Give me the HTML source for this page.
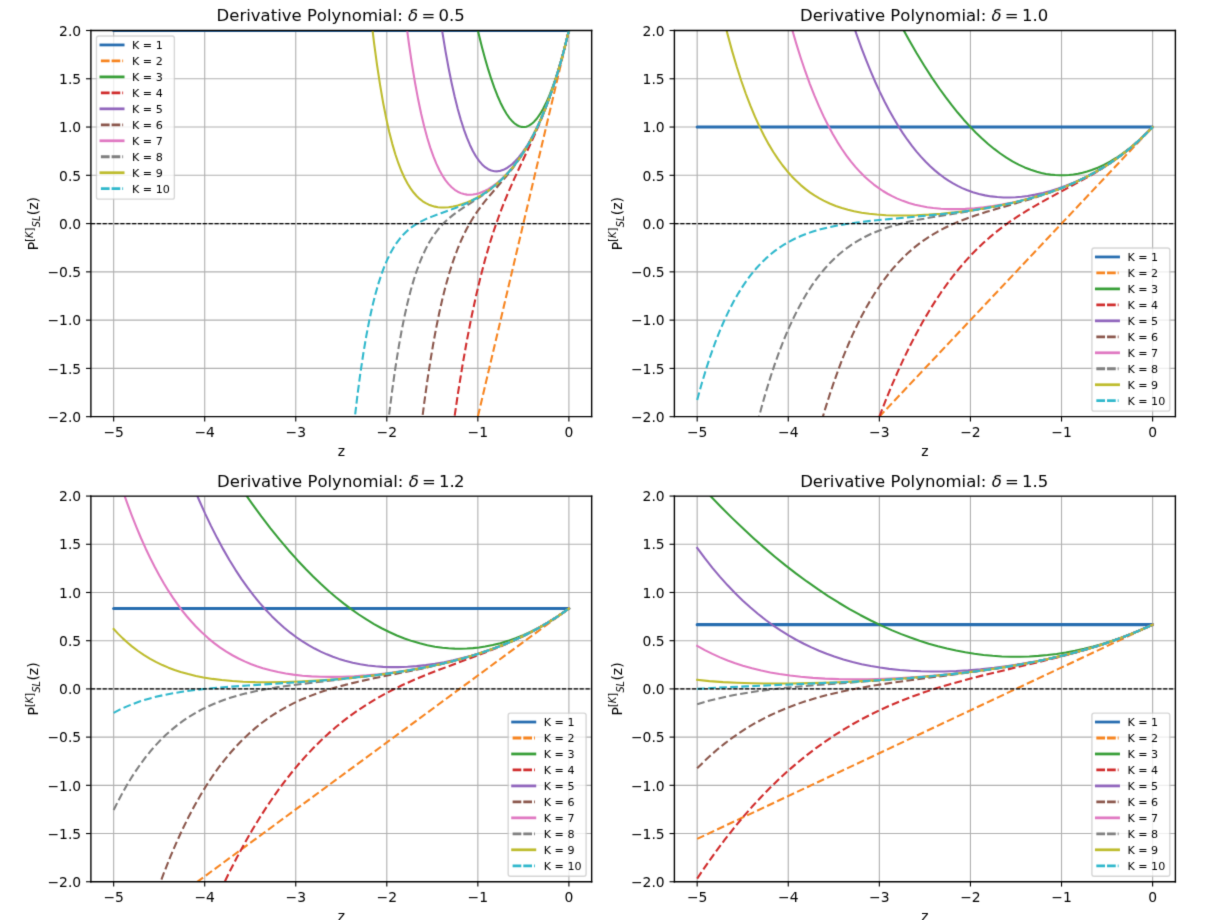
<!DOCTYPE html>
<html><head><meta charset="utf-8"><title>Derivative Polynomial</title>
<style>html,body{margin:0;padding:0;background:#fff;overflow:hidden}svg{display:block}#f{width:1226px;height:920px;filter:url(#soft)}</style>
</head><body><svg width="0" height="0" style="position:absolute"><defs><filter id="soft" x="0" y="0" width="100%" height="100%" color-interpolation-filters="sRGB"><feConvolveMatrix order="3" kernelMatrix="0.0144 0.0912 0.0144 0.0912 0.5776 0.0912 0.0144 0.0912 0.0144" divisor="1" edgeMode="duplicate" preserveAlpha="true"/></filter></defs></svg><div id="f">
<svg width="1226" height="920" viewBox="0 0 882.72 662.4">
 <defs>
  <style type="text/css">*{stroke-linejoin: round; stroke-linecap: butt}</style>
 </defs>
 <g id="figure_1">
  <g id="patch_1">
   <path d="M 0 662.4
L 882.72 662.4
L 882.72 0
L 0 0
z
" style="fill: #ffffff"/>
  </g>
  <g id="axes_1">
   <g id="patch_2">
    <path d="M 65.448 300.0024
L 425.9952 300.0024
L 425.9952 21.96
L 65.448 21.96
z
" style="fill: #ffffff"/>
   </g>
   <g id="matplotlib.axis_1">
    <g id="xtick_1">
     <g id="line2d_1">
      <path d="M 81.836509 300.0024
L 81.836509 21.96
" clip-path="url(#p44d1da7086)" style="fill: none; stroke: #b0b0b0; stroke-width: 0.8; stroke-linecap: square"/>
     </g>
     <g id="line2d_2">
      <defs>
       <path id="m1228cf1c92" d="M 0 0
L 0 3.5
" style="stroke: #000000; stroke-width: 0.8"/>
      </defs>
      <g>
       <use href="#m1228cf1c92" x="81.836509" y="300.0024" style="stroke: #000000; stroke-width: 0.8"/>
      </g>
     </g>
     <g id="text_1">
      <text style="font-size: 10px; font-family: 'DejaVu Sans', 'Bitstream Vera Sans', 'Computer Modern Sans Serif', 'Lucida Grande', 'Verdana', 'Geneva', 'Lucid', 'Arial', 'Helvetica', 'Avant Garde', sans-serif; text-anchor: middle" x="81.836509" y="314.5024" transform="rotate(-0 81.836509 314.5024)">−5</text>
     </g>
    </g>
    <g id="xtick_2">
     <g id="line2d_3">
      <path d="M 147.390545 300.0024
L 147.390545 21.96
" clip-path="url(#p44d1da7086)" style="fill: none; stroke: #b0b0b0; stroke-width: 0.8; stroke-linecap: square"/>
     </g>
     <g id="line2d_4">
      <g>
       <use href="#m1228cf1c92" x="147.390545" y="300.0024" style="stroke: #000000; stroke-width: 0.8"/>
      </g>
     </g>
     <g id="text_2">
      <text style="font-size: 10px; font-family: 'DejaVu Sans', 'Bitstream Vera Sans', 'Computer Modern Sans Serif', 'Lucida Grande', 'Verdana', 'Geneva', 'Lucid', 'Arial', 'Helvetica', 'Avant Garde', sans-serif; text-anchor: middle" x="147.390545" y="314.5024" transform="rotate(-0 147.390545 314.5024)">−4</text>
     </g>
    </g>
    <g id="xtick_3">
     <g id="line2d_5">
      <path d="M 212.944582 300.0024
L 212.944582 21.96
" clip-path="url(#p44d1da7086)" style="fill: none; stroke: #b0b0b0; stroke-width: 0.8; stroke-linecap: square"/>
     </g>
     <g id="line2d_6">
      <g>
       <use href="#m1228cf1c92" x="212.944582" y="300.0024" style="stroke: #000000; stroke-width: 0.8"/>
      </g>
     </g>
     <g id="text_3">
      <text style="font-size: 10px; font-family: 'DejaVu Sans', 'Bitstream Vera Sans', 'Computer Modern Sans Serif', 'Lucida Grande', 'Verdana', 'Geneva', 'Lucid', 'Arial', 'Helvetica', 'Avant Garde', sans-serif; text-anchor: middle" x="212.944582" y="314.5024" transform="rotate(-0 212.944582 314.5024)">−3</text>
     </g>
    </g>
    <g id="xtick_4">
     <g id="line2d_7">
      <path d="M 278.498618 300.0024
L 278.498618 21.96
" clip-path="url(#p44d1da7086)" style="fill: none; stroke: #b0b0b0; stroke-width: 0.8; stroke-linecap: square"/>
     </g>
     <g id="line2d_8">
      <g>
       <use href="#m1228cf1c92" x="278.498618" y="300.0024" style="stroke: #000000; stroke-width: 0.8"/>
      </g>
     </g>
     <g id="text_4">
      <text style="font-size: 10px; font-family: 'DejaVu Sans', 'Bitstream Vera Sans', 'Computer Modern Sans Serif', 'Lucida Grande', 'Verdana', 'Geneva', 'Lucid', 'Arial', 'Helvetica', 'Avant Garde', sans-serif; text-anchor: middle" x="278.498618" y="314.5024" transform="rotate(-0 278.498618 314.5024)">−2</text>
     </g>
    </g>
    <g id="xtick_5">
     <g id="line2d_9">
      <path d="M 344.052655 300.0024
L 344.052655 21.96
" clip-path="url(#p44d1da7086)" style="fill: none; stroke: #b0b0b0; stroke-width: 0.8; stroke-linecap: square"/>
     </g>
     <g id="line2d_10">
      <g>
       <use href="#m1228cf1c92" x="344.052655" y="300.0024" style="stroke: #000000; stroke-width: 0.8"/>
      </g>
     </g>
     <g id="text_5">
      <text style="font-size: 10px; font-family: 'DejaVu Sans', 'Bitstream Vera Sans', 'Computer Modern Sans Serif', 'Lucida Grande', 'Verdana', 'Geneva', 'Lucid', 'Arial', 'Helvetica', 'Avant Garde', sans-serif; text-anchor: middle" x="344.052655" y="314.5024" transform="rotate(-0 344.052655 314.5024)">−1</text>
     </g>
    </g>
    <g id="xtick_6">
     <g id="line2d_11">
      <path d="M 409.606691 300.0024
L 409.606691 21.96
" clip-path="url(#p44d1da7086)" style="fill: none; stroke: #b0b0b0; stroke-width: 0.8; stroke-linecap: square"/>
     </g>
     <g id="line2d_12">
      <g>
       <use href="#m1228cf1c92" x="409.606691" y="300.0024" style="stroke: #000000; stroke-width: 0.8"/>
      </g>
     </g>
     <g id="text_6">
      <text style="font-size: 10px; font-family: 'DejaVu Sans', 'Bitstream Vera Sans', 'Computer Modern Sans Serif', 'Lucida Grande', 'Verdana', 'Geneva', 'Lucid', 'Arial', 'Helvetica', 'Avant Garde', sans-serif; text-anchor: middle" x="409.606691" y="314.5024" transform="rotate(-0 409.606691 314.5024)">0</text>
     </g>
    </g>
    <g id="text_7">
     <text style="font-size: 10px; font-family: 'DejaVu Sans', 'Bitstream Vera Sans', 'Computer Modern Sans Serif', 'Lucida Grande', 'Verdana', 'Geneva', 'Lucid', 'Arial', 'Helvetica', 'Avant Garde', sans-serif; text-anchor: middle" x="245.7216" y="328.0024" transform="rotate(-0 245.7216 328.0024)">z</text>
    </g>
   </g>
   <g id="matplotlib.axis_2">
    <g id="ytick_1">
     <g id="line2d_13">
      <path d="M 65.448 300.0024
L 425.9952 300.0024
" clip-path="url(#p44d1da7086)" style="fill: none; stroke: #b0b0b0; stroke-width: 0.8; stroke-linecap: square"/>
     </g>
     <g id="line2d_14">
      <defs>
       <path id="m6d36496dd9" d="M 0 0
L -3.5 0
" style="stroke: #000000; stroke-width: 0.8"/>
      </defs>
      <g>
       <use href="#m6d36496dd9" x="65.448" y="300.0024" style="stroke: #000000; stroke-width: 0.8"/>
      </g>
     </g>
     <g id="text_8">
      <text style="font-size: 10px; font-family: 'DejaVu Sans', 'Bitstream Vera Sans', 'Computer Modern Sans Serif', 'Lucida Grande', 'Verdana', 'Geneva', 'Lucid', 'Arial', 'Helvetica', 'Avant Garde', sans-serif; text-anchor: end" x="58.448" y="303.7524" transform="rotate(-0 58.448 303.7524)">−2.0</text>
     </g>
    </g>
    <g id="ytick_2">
     <g id="line2d_15">
      <path d="M 65.448 265.2471
L 425.9952 265.2471
" clip-path="url(#p44d1da7086)" style="fill: none; stroke: #b0b0b0; stroke-width: 0.8; stroke-linecap: square"/>
     </g>
     <g id="line2d_16">
      <g>
       <use href="#m6d36496dd9" x="65.448" y="265.2471" style="stroke: #000000; stroke-width: 0.8"/>
      </g>
     </g>
     <g id="text_9">
      <text style="font-size: 10px; font-family: 'DejaVu Sans', 'Bitstream Vera Sans', 'Computer Modern Sans Serif', 'Lucida Grande', 'Verdana', 'Geneva', 'Lucid', 'Arial', 'Helvetica', 'Avant Garde', sans-serif; text-anchor: end" x="58.448" y="268.9971" transform="rotate(-0 58.448 268.9971)">−1.5</text>
     </g>
    </g>
    <g id="ytick_3">
     <g id="line2d_17">
      <path d="M 65.448 230.4918
L 425.9952 230.4918
" clip-path="url(#p44d1da7086)" style="fill: none; stroke: #b0b0b0; stroke-width: 0.8; stroke-linecap: square"/>
     </g>
     <g id="line2d_18">
      <g>
       <use href="#m6d36496dd9" x="65.448" y="230.4918" style="stroke: #000000; stroke-width: 0.8"/>
      </g>
     </g>
     <g id="text_10">
      <text style="font-size: 10px; font-family: 'DejaVu Sans', 'Bitstream Vera Sans', 'Computer Modern Sans Serif', 'Lucida Grande', 'Verdana', 'Geneva', 'Lucid', 'Arial', 'Helvetica', 'Avant Garde', sans-serif; text-anchor: end" x="58.448" y="234.2418" transform="rotate(-0 58.448 234.2418)">−1.0</text>
     </g>
    </g>
    <g id="ytick_4">
     <g id="line2d_19">
      <path d="M 65.448 195.7365
L 425.9952 195.7365
" clip-path="url(#p44d1da7086)" style="fill: none; stroke: #b0b0b0; stroke-width: 0.8; stroke-linecap: square"/>
     </g>
     <g id="line2d_20">
      <g>
       <use href="#m6d36496dd9" x="65.448" y="195.7365" style="stroke: #000000; stroke-width: 0.8"/>
      </g>
     </g>
     <g id="text_11">
      <text style="font-size: 10px; font-family: 'DejaVu Sans', 'Bitstream Vera Sans', 'Computer Modern Sans Serif', 'Lucida Grande', 'Verdana', 'Geneva', 'Lucid', 'Arial', 'Helvetica', 'Avant Garde', sans-serif; text-anchor: end" x="58.448" y="199.4865" transform="rotate(-0 58.448 199.4865)">−0.5</text>
     </g>
    </g>
    <g id="ytick_5">
     <g id="line2d_21">
      <path d="M 65.448 160.9812
L 425.9952 160.9812
" clip-path="url(#p44d1da7086)" style="fill: none; stroke: #b0b0b0; stroke-width: 0.8; stroke-linecap: square"/>
     </g>
     <g id="line2d_22">
      <g>
       <use href="#m6d36496dd9" x="65.448" y="160.9812" style="stroke: #000000; stroke-width: 0.8"/>
      </g>
     </g>
     <g id="text_12">
      <text style="font-size: 10px; font-family: 'DejaVu Sans', 'Bitstream Vera Sans', 'Computer Modern Sans Serif', 'Lucida Grande', 'Verdana', 'Geneva', 'Lucid', 'Arial', 'Helvetica', 'Avant Garde', sans-serif; text-anchor: end" x="58.448" y="164.7312" transform="rotate(-0 58.448 164.7312)">0.0</text>
     </g>
    </g>
    <g id="ytick_6">
     <g id="line2d_23">
      <path d="M 65.448 126.2259
L 425.9952 126.2259
" clip-path="url(#p44d1da7086)" style="fill: none; stroke: #b0b0b0; stroke-width: 0.8; stroke-linecap: square"/>
     </g>
     <g id="line2d_24">
      <g>
       <use href="#m6d36496dd9" x="65.448" y="126.2259" style="stroke: #000000; stroke-width: 0.8"/>
      </g>
     </g>
     <g id="text_13">
      <text style="font-size: 10px; font-family: 'DejaVu Sans', 'Bitstream Vera Sans', 'Computer Modern Sans Serif', 'Lucida Grande', 'Verdana', 'Geneva', 'Lucid', 'Arial', 'Helvetica', 'Avant Garde', sans-serif; text-anchor: end" x="58.448" y="129.9759" transform="rotate(-0 58.448 129.9759)">0.5</text>
     </g>
    </g>
    <g id="ytick_7">
     <g id="line2d_25">
      <path d="M 65.448 91.4706
L 425.9952 91.4706
" clip-path="url(#p44d1da7086)" style="fill: none; stroke: #b0b0b0; stroke-width: 0.8; stroke-linecap: square"/>
     </g>
     <g id="line2d_26">
      <g>
       <use href="#m6d36496dd9" x="65.448" y="91.4706" style="stroke: #000000; stroke-width: 0.8"/>
      </g>
     </g>
     <g id="text_14">
      <text style="font-size: 10px; font-family: 'DejaVu Sans', 'Bitstream Vera Sans', 'Computer Modern Sans Serif', 'Lucida Grande', 'Verdana', 'Geneva', 'Lucid', 'Arial', 'Helvetica', 'Avant Garde', sans-serif; text-anchor: end" x="58.448" y="95.2206" transform="rotate(-0 58.448 95.2206)">1.0</text>
     </g>
    </g>
    <g id="ytick_8">
     <g id="line2d_27">
      <path d="M 65.448 56.7153
L 425.9952 56.7153
" clip-path="url(#p44d1da7086)" style="fill: none; stroke: #b0b0b0; stroke-width: 0.8; stroke-linecap: square"/>
     </g>
     <g id="line2d_28">
      <g>
       <use href="#m6d36496dd9" x="65.448" y="56.7153" style="stroke: #000000; stroke-width: 0.8"/>
      </g>
     </g>
     <g id="text_15">
      <text style="font-size: 10px; font-family: 'DejaVu Sans', 'Bitstream Vera Sans', 'Computer Modern Sans Serif', 'Lucida Grande', 'Verdana', 'Geneva', 'Lucid', 'Arial', 'Helvetica', 'Avant Garde', sans-serif; text-anchor: end" x="58.448" y="60.4653" transform="rotate(-0 58.448 60.4653)">1.5</text>
     </g>
    </g>
    <g id="ytick_9">
     <g id="line2d_29">
      <path d="M 65.448 21.96
L 425.9952 21.96
" clip-path="url(#p44d1da7086)" style="fill: none; stroke: #b0b0b0; stroke-width: 0.8; stroke-linecap: square"/>
     </g>
     <g id="line2d_30">
      <g>
       <use href="#m6d36496dd9" x="65.448" y="21.96" style="stroke: #000000; stroke-width: 0.8"/>
      </g>
     </g>
     <g id="text_16">
      <text style="font-size: 10px; font-family: 'DejaVu Sans', 'Bitstream Vera Sans', 'Computer Modern Sans Serif', 'Lucida Grande', 'Verdana', 'Geneva', 'Lucid', 'Arial', 'Helvetica', 'Avant Garde', sans-serif; text-anchor: end" x="58.448" y="25.71" transform="rotate(-0 58.448 25.71)">2.0</text>
     </g>
    </g>
    <g id="text_17">
     <!-- P$^{[K]}$$_{SL}$(z) -->
     <g transform="translate(28.3355 180.144442) rotate(-90)">
      <text>
       <tspan x="0" y="-0.85625" style="font-size: 10px; font-family: 'DejaVu Sans'">P</tspan>
       <tspan x="25.164062" y="-0.85625" style="font-size: 10px; font-family: 'DejaVu Sans'">(</tspan>
       <tspan x="29.06543" y="-0.85625" style="font-size: 10px; font-family: 'DejaVu Sans'">z</tspan>
       <tspan x="34.314453" y="-0.85625" style="font-size: 10px; font-family: 'DejaVu Sans'">)</tspan>
       <tspan x="6.125977" y="-4.684375" style="font-size: 7px; font-family: 'DejaVu Sans'">[</tspan>
       <tspan x="13.447266" y="-4.684375" style="font-size: 7px; font-family: 'DejaVu Sans'">]</tspan>
       <tspan x="8.856934" y="-4.684375" style="font-style: oblique; font-size: 7px; font-family: 'DejaVu Sans'">K</tspan>
       <tspan x="16.547363" y="0.784375" style="font-style: oblique; font-size: 7px; font-family: 'DejaVu Sans'">S</tspan>
       <tspan x="20.990723" y="0.784375" style="font-style: oblique; font-size: 7px; font-family: 'DejaVu Sans'">L</tspan>
      </text>
     </g>
    </g>
   </g>
   <g id="line2d_31">
    <path d="M 81.836509 21.96
L 409.606691 21.96
L 409.606691 21.96
" clip-path="url(#p44d1da7086)" style="fill: none; stroke: #276db0; stroke-width: 2.2; stroke-linecap: round"/>
   </g>
   <g id="line2d_32">
    <path d="M 258.374429 663.4
L 409.606691 21.96
L 409.606691 21.96
" clip-path="url(#p44d1da7086)" style="fill: none; stroke-dasharray: 5.55,2.4; stroke-dashoffset: 0; stroke: #f7841f; stroke-width: 1.5"/>
   </g>
   <g id="line2d_33">
    <path d="M 339.028732 -1
L 341.640968 11.354698
L 344.929632 25.62987
L 347.122074 34.369136
L 349.314517 42.486391
L 351.50696 49.981633
L 353.699402 56.854864
L 355.891845 63.106083
L 358.084288 68.73529
L 360.27673 73.742485
L 362.469173 78.127669
L 364.661616 81.89084
L 366.854058 85.032
L 369.046501 87.551148
L 370.142723 88.577467
L 371.238944 89.448284
L 372.335165 90.163598
L 373.431387 90.723408
L 374.527608 91.127716
L 375.623829 91.376521
L 376.720051 91.469822
L 377.816272 91.407621
L 378.912493 91.189917
L 380.008715 90.81671
L 381.104936 90.288
L 382.201157 89.603787
L 383.297379 88.764071
L 384.3936 87.768852
L 386.586043 85.311905
L 388.778485 82.232947
L 390.970928 78.531976
L 393.163371 74.208994
L 395.355813 69.264
L 397.548256 63.696994
L 399.740699 57.507976
L 401.933142 50.696947
L 404.125584 43.263905
L 406.318027 35.208852
L 408.51047 26.531787
L 409.606691 21.96
L 409.606691 21.96
" clip-path="url(#p44d1da7086)" style="fill: none; stroke: #389f38; stroke-width: 1.5; stroke-linecap: square"/>
   </g>
   <g id="line2d_34">
    <path d="M 294.05536 663.4
L 296.695892 623.166925
L 299.984557 576.193694
L 303.273221 532.501627
L 306.561885 491.950304
L 309.850549 454.399304
L 313.139213 419.708207
L 316.427877 387.73659
L 319.716541 358.344035
L 323.005205 331.390119
L 326.293869 306.734423
L 329.582533 284.236525
L 332.871197 263.756006
L 336.159861 245.152443
L 339.448525 228.285417
L 342.737189 213.014506
L 346.025853 199.19929
L 349.314517 186.699349
L 352.603181 175.374261
L 355.891845 165.083606
L 359.180509 155.686962
L 362.469173 147.04391
L 365.757837 139.014029
L 370.142723 129.018638
L 375.623829 117.1992
L 383.297379 100.74664
L 387.682264 90.784535
L 390.970928 82.790538
L 394.259592 74.192733
L 397.548256 64.850698
L 400.83692 54.624012
L 404.125584 43.372255
L 407.414248 30.955005
L 409.606691 21.96
L 409.606691 21.96
" clip-path="url(#p44d1da7086)" style="fill: none; stroke-dasharray: 5.55,2.4; stroke-dashoffset: 0; stroke: #d02c2c; stroke-width: 1.5"/>
   </g>
   <g id="line2d_35">
    <path d="M 314.972136 -1
L 316.427877 9.415336
L 318.620319 23.912001
L 320.812762 37.116549
L 323.005205 49.101478
L 325.197647 59.936503
L 327.39009 69.688555
L 329.582533 78.421784
L 331.774975 86.197553
L 333.967418 93.074447
L 336.159861 99.108265
L 338.352304 104.352023
L 340.544746 108.855954
L 342.737189 112.66751
L 344.929632 115.831357
L 347.122074 118.38938
L 349.314517 120.380681
L 351.50696 121.841577
L 353.699402 122.805605
L 355.891845 123.303517
L 358.084288 123.363281
L 360.27673 123.010085
L 362.469173 122.266332
L 364.661616 121.151641
L 366.854058 119.682851
L 369.046501 117.874015
L 371.238944 115.736404
L 373.431387 113.278508
L 375.623829 110.506031
L 377.816272 107.421894
L 380.008715 104.026239
L 382.201157 100.316419
L 384.3936 96.28701
L 386.586043 91.9298
L 388.778485 87.233797
L 392.067149 79.523659
L 395.355813 70.961353
L 398.644477 61.474557
L 401.933142 50.976856
L 405.221806 39.36775
L 408.51047 26.532647
L 409.606691 21.96
L 409.606691 21.96
" clip-path="url(#p44d1da7086)" style="fill: none; stroke: #9166bd; stroke-width: 1.5; stroke-linecap: square"/>
   </g>
   <g id="line2d_36">
    <path d="M 277.976237 663.4
L 279.156351 638.398504
L 281.348794 594.648654
L 283.541236 554.16076
L 285.733679 516.741494
L 287.926122 482.205452
L 290.118564 450.37496
L 292.311007 421.079896
L 294.50345 394.1575
L 296.695892 369.452187
L 298.888335 346.815362
L 301.080778 326.105237
L 303.273221 307.186638
L 305.465663 289.930824
L 307.658106 274.215301
L 309.850549 259.923632
L 312.042991 246.945256
L 314.235434 235.175296
L 316.427877 224.514377
L 318.620319 214.86844
L 320.812762 206.148553
L 323.005205 198.270727
L 325.197647 191.155729
L 327.39009 184.728897
L 329.582533 178.919952
L 331.774975 173.662813
L 333.967418 168.895411
L 336.159861 164.559502
L 338.352304 160.600482
L 340.544746 156.967199
L 343.83341 152.024133
L 347.122074 147.558151
L 350.410738 143.434627
L 355.891845 136.997325
L 364.661616 126.768107
L 369.046501 121.235664
L 372.335165 116.749684
L 375.623829 111.893912
L 378.912493 106.597429
L 382.201157 100.789836
L 385.489821 94.399839
L 388.778485 87.353833
L 392.067149 79.574492
L 395.355813 70.979353
L 398.644477 61.479405
L 401.933142 50.977671
L 405.221806 39.367799
L 408.51047 26.532647
L 409.606691 21.96
L 409.606691 21.96
" clip-path="url(#p44d1da7086)" style="fill: none; stroke-dasharray: 5.55,2.4; stroke-dashoffset: 0; stroke: #8b574c; stroke-width: 1.5"/>
   </g>
   <g id="line2d_37">
    <path d="M 290.329638 -1
L 292.311007 15.548883
L 294.50345 32.03359
L 296.695892 46.792465
L 298.888335 59.9688
L 301.080778 71.696176
L 303.273221 82.098912
L 305.465663 91.292502
L 307.658106 99.384037
L 309.850549 106.472619
L 312.042991 112.64976
L 314.235434 117.999767
L 316.427877 122.600116
L 318.620319 126.521815
L 320.812762 129.829755
L 323.005205 132.583042
L 325.197647 134.835325
L 327.39009 136.635109
L 329.582533 138.026048
L 331.774975 139.047242
L 333.967418 139.733502
L 336.159861 140.115617
L 338.352304 140.220605
L 340.544746 140.071946
L 342.737189 139.689808
L 344.929632 139.091263
L 347.122074 138.290481
L 349.314517 137.298923
L 351.50696 136.125511
L 354.795624 134.038132
L 358.084288 131.568661
L 361.372952 128.719711
L 364.661616 125.484522
L 367.95028 121.847701
L 371.238944 117.785814
L 374.527608 113.267843
L 377.816272 108.255497
L 381.104936 102.703382
L 384.3936 96.559028
L 387.682264 89.762778
L 390.970928 82.247534
L 394.259592 73.938353
L 397.548256 64.751917
L 400.83692 54.595844
L 404.125584 43.367872
L 407.414248 30.954891
L 409.606691 21.96
L 409.606691 21.96
" clip-path="url(#p44d1da7086)" style="fill: none; stroke: #e079c2; stroke-width: 1.5; stroke-linecap: square"/>
   </g>
   <g id="line2d_38">
    <path d="M 256.669756 663.4
L 258.328145 622.912917
L 260.520588 573.889627
L 262.713031 529.395056
L 264.905474 489.069027
L 267.097916 452.574865
L 269.290359 419.598193
L 271.482802 389.845775
L 273.675244 363.044403
L 275.867687 338.93982
L 278.06013 317.295684
L 280.252572 297.892575
L 282.445015 280.527039
L 284.637458 265.010661
L 286.8299 251.169191
L 289.022343 238.841691
L 291.214786 227.879722
L 293.407228 218.146572
L 295.599671 209.516506
L 297.792114 201.874055
L 299.984557 195.113336
L 302.176999 189.137404
L 304.369442 183.857628
L 306.561885 179.193107
L 308.754327 175.070102
L 310.94677 171.421504
L 313.139213 168.186328
L 315.331655 165.309227
L 317.524098 162.74004
L 319.716541 160.433355
L 323.005205 157.376769
L 326.293869 154.697016
L 329.582533 152.289092
L 333.967418 149.347318
L 348.218296 140.047746
L 352.603181 136.800065
L 355.891845 134.132737
L 359.180509 131.223998
L 362.469173 128.035758
L 365.757837 124.529401
L 369.046501 120.664912
L 372.335165 116.400055
L 375.623829 111.689609
L 378.912493 106.484632
L 382.201157 100.731744
L 385.489821 94.372422
L 388.778485 87.342274
L 392.067149 79.570305
L 395.355813 70.97813
L 398.644477 61.479147
L 401.933142 50.97764
L 405.221806 39.367798
L 408.51047 26.532647
L 409.606691 21.96
L 409.606691 21.96
" clip-path="url(#p44d1da7086)" style="fill: none; stroke-dasharray: 5.55,2.4; stroke-dashoffset: 0; stroke: #7f7f7f; stroke-width: 1.5"/>
   </g>
   <g id="line2d_39">
    <path d="M 265.66857 -1
L 267.097916 12.28588
L 269.290359 30.668805
L 271.482802 46.955346
L 273.675244 61.351924
L 275.867687 74.047328
L 278.06013 85.213944
L 280.252572 95.00892
L 282.445015 103.575267
L 284.637458 111.042894
L 286.8299 117.529586
L 289.022343 123.141924
L 291.214786 127.976143
L 293.407228 132.118949
L 295.599671 135.648272
L 297.792114 138.63398
L 299.984557 141.138541
L 302.176999 143.217644
L 304.369442 144.920773
L 306.561885 146.291748
L 308.754327 147.369218
L 310.94677 148.187124
L 313.139213 148.775128
L 315.331655 149.159001
L 317.524098 149.36099
L 319.716541 149.400147
L 323.005205 149.188205
L 326.293869 148.689434
L 329.582533 147.93624
L 332.871197 146.951259
L 336.159861 145.748721
L 339.448525 144.335607
L 342.737189 142.712595
L 346.025853 140.874834
L 349.314517 138.812552
L 352.603181 136.511517
L 355.891845 133.953363
L 359.180509 131.115792
L 362.469173 127.972671
L 365.757837 124.494028
L 369.046501 120.645953
L 372.335165 116.390416
L 375.623829 111.685006
L 378.912493 106.482593
L 382.201157 100.730921
L 385.489821 94.372125
L 388.778485 87.342182
L 392.067149 79.570281
L 395.355813 70.978125
L 398.644477 61.479147
L 401.933142 50.97764
L 405.221806 39.367798
L 408.51047 26.532647
L 409.606691 21.96
L 409.606691 21.96
" clip-path="url(#p44d1da7086)" style="fill: none; stroke: #bebc2e; stroke-width: 1.5; stroke-linecap: square"/>
   </g>
   <g id="line2d_40">
    <path d="M 233.790762 663.4
L 235.307497 622.801515
L 237.49994 569.509726
L 239.692383 521.763161
L 241.884825 479.045723
L 244.077268 440.88329
L 246.269711 406.840803
L 248.462153 376.519506
L 250.654596 349.554363
L 252.847039 325.611611
L 255.039481 304.38647
L 257.231924 285.600982
L 259.424367 269.00199
L 261.616809 254.359233
L 263.809252 241.463571
L 266.001695 230.125317
L 268.194138 220.172675
L 270.38658 211.450287
L 272.579023 203.817876
L 274.771466 197.148972
L 276.963908 191.32974
L 279.156351 186.257876
L 281.348794 181.841593
L 283.541236 177.998671
L 285.733679 174.655584
L 287.926122 171.746687
L 290.118564 169.213465
L 292.311007 167.003844
L 294.50345 165.07155
L 296.695892 163.375526
L 299.984557 161.196064
L 303.273221 159.361692
L 306.561885 157.784605
L 310.94677 155.95782
L 317.524098 153.537282
L 328.486311 149.548627
L 333.967418 147.285183
L 338.352304 145.24531
L 342.737189 142.947151
L 347.122074 140.340362
L 350.410738 138.151204
L 353.699402 135.735207
L 356.988066 133.066894
L 360.27673 130.118612
L 363.565394 126.860153
L 366.854058 123.258362
L 370.142723 119.276753
L 373.431387 114.87509
L 376.720051 110.008956
L 380.008715 104.629287
L 383.297379 98.681863
L 386.586043 92.10675
L 389.874707 84.837698
L 393.163371 76.801466
L 396.452035 67.917087
L 399.740699 58.095044
L 403.029363 47.236377
L 406.318027 35.23168
L 409.606691 21.96
L 409.606691 21.96
" clip-path="url(#p44d1da7086)" style="fill: none; stroke-dasharray: 5.55,2.4; stroke-dashoffset: 0; stroke: #30b8cc; stroke-width: 1.5"/>
   </g>
   <g id="line2d_41">
    <path d="M 65.448 160.9812
L 425.9952 160.9812
" clip-path="url(#p44d1da7086)" style="fill: none; stroke-dasharray: 2.96,1.28; stroke-dashoffset: 0; stroke: #000000; stroke-width: 0.8"/>
   </g>
   <g id="patch_3">
    <path d="M 65.448 300.0024
L 65.448 21.96
" style="fill: none; stroke: #000000; stroke-linejoin: miter; stroke-linecap: square"/>
   </g>
   <g id="patch_4">
    <path d="M 425.9952 300.0024
L 425.9952 21.96
" style="fill: none; stroke: #000000; stroke-linejoin: miter; stroke-linecap: square"/>
   </g>
   <g id="patch_5">
    <path d="M 65.448 300.0024
L 425.9952 300.0024
" style="fill: none; stroke: #000000; stroke-linejoin: miter; stroke-linecap: square"/>
   </g>
   <g id="patch_6">
    <path d="M 65.448 21.96
L 425.9952 21.96
" style="fill: none; stroke: #000000; stroke-linejoin: miter; stroke-linecap: square"/>
   </g>
   <g id="text_18">
    <!-- Derivative Polynomial: $\delta = 0.5$ -->
    <g transform="translate(155.9019 16.3200) scale(0.9907 1)">
     <text>
      <tspan x="0" y="-0.875" style="font-size: 12px; font-family: 'DejaVu Sans'">D</tspan>
      <tspan x="9.240234" y="-0.875" style="font-size: 12px; font-family: 'DejaVu Sans'">e</tspan>
      <tspan x="16.623047" y="-0.875" style="font-size: 12px; font-family: 'DejaVu Sans'">r</tspan>
      <tspan x="21.556641" y="-0.875" style="font-size: 12px; font-family: 'DejaVu Sans'">i</tspan>
      <tspan x="24.890625" y="-0.875" style="font-size: 12px; font-family: 'DejaVu Sans'">v</tspan>
      <tspan x="31.992188" y="-0.875" style="font-size: 12px; font-family: 'DejaVu Sans'">a</tspan>
      <tspan x="39.345703" y="-0.875" style="font-size: 12px; font-family: 'DejaVu Sans'">t</tspan>
      <tspan x="44.050781" y="-0.875" style="font-size: 12px; font-family: 'DejaVu Sans'">i</tspan>
      <tspan x="47.384766" y="-0.875" style="font-size: 12px; font-family: 'DejaVu Sans'">v</tspan>
      <tspan x="54.486328" y="-0.875" style="font-size: 12px; font-family: 'DejaVu Sans'">e</tspan>
      <tspan x="61.869141" y="-0.875" style="font-size: 12px; font-family: 'DejaVu Sans'"> </tspan>
      <tspan x="65.683594" y="-0.875" style="font-size: 12px; font-family: 'DejaVu Sans'">P</tspan>
      <tspan x="72.919922" y="-0.875" style="font-size: 12px; font-family: 'DejaVu Sans'">o</tspan>
      <tspan x="80.261719" y="-0.875" style="font-size: 12px; font-family: 'DejaVu Sans'">l</tspan>
      <tspan x="83.595703" y="-0.875" style="font-size: 12px; font-family: 'DejaVu Sans'">y</tspan>
      <tspan x="90.697266" y="-0.875" style="font-size: 12px; font-family: 'DejaVu Sans'">n</tspan>
      <tspan x="98.302734" y="-0.875" style="font-size: 12px; font-family: 'DejaVu Sans'">o</tspan>
      <tspan x="105.644531" y="-0.875" style="font-size: 12px; font-family: 'DejaVu Sans'">m</tspan>
      <tspan x="117.333984" y="-0.875" style="font-size: 12px; font-family: 'DejaVu Sans'">i</tspan>
      <tspan x="120.667969" y="-0.875" style="font-size: 12px; font-family: 'DejaVu Sans'">a</tspan>
      <tspan x="128.021484" y="-0.875" style="font-size: 12px; font-family: 'DejaVu Sans'">l</tspan>
      <tspan x="131.355469" y="-0.875" style="font-size: 12px; font-family: 'DejaVu Sans'">:</tspan>
      <tspan x="135.398438" y="-0.875" style="font-size: 12px; font-family: 'DejaVu Sans'"> </tspan>
      <tspan x="148.892578" y="-0.875" style="font-size: 12px; font-family: 'DejaVu Sans'">=</tspan>
      <tspan x="161.285156" y="-0.875" style="font-size: 12px; font-family: 'DejaVu Sans'">0</tspan>
      <tspan x="168.919922" y="-0.875" style="font-size: 12px; font-family: 'DejaVu Sans'">.</tspan>
      <tspan x="172.734375" y="-0.875" style="font-size: 12px; font-family: 'DejaVu Sans'">5</tspan>
      <tspan x="139.212891" y="-0.875" style="font-style: oblique; font-size: 12px; font-family: 'DejaVu Sans'">δ</tspan>
     </text>
    </g>
   </g>
   <g id="legend_1">
    <g id="patch_7">
     <path d="M 71.048 143.36
L 123.9605 143.36
Q 125.5605 143.36 125.5605 141.76
L 125.5605 27.56
Q 125.5605 25.96 123.9605 25.96
L 71.048 25.96
Q 69.448 25.96 69.448 27.56
L 69.448 141.76
Q 69.448 143.36 71.048 143.36
z
" style="fill: #ffffff; opacity: 0.8; stroke: #cccccc; stroke-linejoin: miter"/>
    </g>
    <g id="line2d_42">
     <path d="M 72.648 32.36
L 80.648 32.36
L 88.648 32.36
" style="fill: none; stroke: #276db0; stroke-width: 2; stroke-linecap: square"/>
    </g>
    <g id="text_19">
     <text style="font-size: 8px; font-family: 'DejaVu Sans', 'Bitstream Vera Sans', 'Computer Modern Sans Serif', 'Lucida Grande', 'Verdana', 'Geneva', 'Lucid', 'Arial', 'Helvetica', 'Avant Garde', sans-serif; text-anchor: start" x="95.048" y="35.16" transform="rotate(-0 95.048 35.16)">K = 1</text>
    </g>
    <g id="line2d_43">
     <path d="M 72.648 43.86
L 80.648 43.86
L 88.648 43.86
" style="fill: none; stroke-dasharray: 6.26,1.44; stroke-dashoffset: 0; stroke: #f7841f; stroke-width: 2"/>
    </g>
    <g id="text_20">
     <text style="font-size: 8px; font-family: 'DejaVu Sans', 'Bitstream Vera Sans', 'Computer Modern Sans Serif', 'Lucida Grande', 'Verdana', 'Geneva', 'Lucid', 'Arial', 'Helvetica', 'Avant Garde', sans-serif; text-anchor: start" x="95.048" y="46.66" transform="rotate(-0 95.048 46.66)">K = 2</text>
    </g>
    <g id="line2d_44">
     <path d="M 72.648 55.36
L 80.648 55.36
L 88.648 55.36
" style="fill: none; stroke: #389f38; stroke-width: 2; stroke-linecap: square"/>
    </g>
    <g id="text_21">
     <text style="font-size: 8px; font-family: 'DejaVu Sans', 'Bitstream Vera Sans', 'Computer Modern Sans Serif', 'Lucida Grande', 'Verdana', 'Geneva', 'Lucid', 'Arial', 'Helvetica', 'Avant Garde', sans-serif; text-anchor: start" x="95.048" y="58.16" transform="rotate(-0 95.048 58.16)">K = 3</text>
    </g>
    <g id="line2d_45">
     <path d="M 72.648 66.86
L 80.648 66.86
L 88.648 66.86
" style="fill: none; stroke-dasharray: 6.26,1.44; stroke-dashoffset: 0; stroke: #d02c2c; stroke-width: 2"/>
    </g>
    <g id="text_22">
     <text style="font-size: 8px; font-family: 'DejaVu Sans', 'Bitstream Vera Sans', 'Computer Modern Sans Serif', 'Lucida Grande', 'Verdana', 'Geneva', 'Lucid', 'Arial', 'Helvetica', 'Avant Garde', sans-serif; text-anchor: start" x="95.048" y="69.66" transform="rotate(-0 95.048 69.66)">K = 4</text>
    </g>
    <g id="line2d_46">
     <path d="M 72.648 78.36
L 80.648 78.36
L 88.648 78.36
" style="fill: none; stroke: #9166bd; stroke-width: 2; stroke-linecap: square"/>
    </g>
    <g id="text_23">
     <text style="font-size: 8px; font-family: 'DejaVu Sans', 'Bitstream Vera Sans', 'Computer Modern Sans Serif', 'Lucida Grande', 'Verdana', 'Geneva', 'Lucid', 'Arial', 'Helvetica', 'Avant Garde', sans-serif; text-anchor: start" x="95.048" y="81.16" transform="rotate(-0 95.048 81.16)">K = 5</text>
    </g>
    <g id="line2d_47">
     <path d="M 72.648 89.86
L 80.648 89.86
L 88.648 89.86
" style="fill: none; stroke-dasharray: 6.26,1.44; stroke-dashoffset: 0; stroke: #8b574c; stroke-width: 2"/>
    </g>
    <g id="text_24">
     <text style="font-size: 8px; font-family: 'DejaVu Sans', 'Bitstream Vera Sans', 'Computer Modern Sans Serif', 'Lucida Grande', 'Verdana', 'Geneva', 'Lucid', 'Arial', 'Helvetica', 'Avant Garde', sans-serif; text-anchor: start" x="95.048" y="92.66" transform="rotate(-0 95.048 92.66)">K = 6</text>
    </g>
    <g id="line2d_48">
     <path d="M 72.648 101.36
L 80.648 101.36
L 88.648 101.36
" style="fill: none; stroke: #e079c2; stroke-width: 2; stroke-linecap: square"/>
    </g>
    <g id="text_25">
     <text style="font-size: 8px; font-family: 'DejaVu Sans', 'Bitstream Vera Sans', 'Computer Modern Sans Serif', 'Lucida Grande', 'Verdana', 'Geneva', 'Lucid', 'Arial', 'Helvetica', 'Avant Garde', sans-serif; text-anchor: start" x="95.048" y="104.16" transform="rotate(-0 95.048 104.16)">K = 7</text>
    </g>
    <g id="line2d_49">
     <path d="M 72.648 112.86
L 80.648 112.86
L 88.648 112.86
" style="fill: none; stroke-dasharray: 6.26,1.44; stroke-dashoffset: 0; stroke: #7f7f7f; stroke-width: 2"/>
    </g>
    <g id="text_26">
     <text style="font-size: 8px; font-family: 'DejaVu Sans', 'Bitstream Vera Sans', 'Computer Modern Sans Serif', 'Lucida Grande', 'Verdana', 'Geneva', 'Lucid', 'Arial', 'Helvetica', 'Avant Garde', sans-serif; text-anchor: start" x="95.048" y="115.66" transform="rotate(-0 95.048 115.66)">K = 8</text>
    </g>
    <g id="line2d_50">
     <path d="M 72.648 124.36
L 80.648 124.36
L 88.648 124.36
" style="fill: none; stroke: #bebc2e; stroke-width: 2; stroke-linecap: square"/>
    </g>
    <g id="text_27">
     <text style="font-size: 8px; font-family: 'DejaVu Sans', 'Bitstream Vera Sans', 'Computer Modern Sans Serif', 'Lucida Grande', 'Verdana', 'Geneva', 'Lucid', 'Arial', 'Helvetica', 'Avant Garde', sans-serif; text-anchor: start" x="95.048" y="127.16" transform="rotate(-0 95.048 127.16)">K = 9</text>
    </g>
    <g id="line2d_51">
     <path d="M 72.648 135.86
L 80.648 135.86
L 88.648 135.86
" style="fill: none; stroke-dasharray: 6.26,1.44; stroke-dashoffset: 0; stroke: #30b8cc; stroke-width: 2"/>
    </g>
    <g id="text_28">
     <text style="font-size: 8px; font-family: 'DejaVu Sans', 'Bitstream Vera Sans', 'Computer Modern Sans Serif', 'Lucida Grande', 'Verdana', 'Geneva', 'Lucid', 'Arial', 'Helvetica', 'Avant Garde', sans-serif; text-anchor: start" x="95.048" y="138.66" transform="rotate(-0 95.048 138.66)">K = 10</text>
    </g>
   </g>
  </g>
  <g id="axes_2">
   <g id="patch_8">
    <path d="M 485.568 300.0024
L 846.2808 300.0024
L 846.2808 21.96
L 485.568 21.96
z
" style="fill: #ffffff"/>
   </g>
   <g id="matplotlib.axis_3">
    <g id="xtick_7">
     <g id="line2d_52">
      <path d="M 501.964036 300.0024
L 501.964036 21.96
" clip-path="url(#pb7b802564a)" style="fill: none; stroke: #b0b0b0; stroke-width: 0.8; stroke-linecap: square"/>
     </g>
     <g id="line2d_53">
      <g>
       <use href="#m1228cf1c92" x="501.964036" y="300.0024" style="stroke: #000000; stroke-width: 0.8"/>
      </g>
     </g>
     <g id="text_29">
      <text style="font-size: 10px; font-family: 'DejaVu Sans', 'Bitstream Vera Sans', 'Computer Modern Sans Serif', 'Lucida Grande', 'Verdana', 'Geneva', 'Lucid', 'Arial', 'Helvetica', 'Avant Garde', sans-serif; text-anchor: middle" x="501.964036" y="314.5024" transform="rotate(-0 501.964036 314.5024)">−5</text>
     </g>
    </g>
    <g id="xtick_8">
     <g id="line2d_54">
      <path d="M 567.548182 300.0024
L 567.548182 21.96
" clip-path="url(#pb7b802564a)" style="fill: none; stroke: #b0b0b0; stroke-width: 0.8; stroke-linecap: square"/>
     </g>
     <g id="line2d_55">
      <g>
       <use href="#m1228cf1c92" x="567.548182" y="300.0024" style="stroke: #000000; stroke-width: 0.8"/>
      </g>
     </g>
     <g id="text_30">
      <text style="font-size: 10px; font-family: 'DejaVu Sans', 'Bitstream Vera Sans', 'Computer Modern Sans Serif', 'Lucida Grande', 'Verdana', 'Geneva', 'Lucid', 'Arial', 'Helvetica', 'Avant Garde', sans-serif; text-anchor: middle" x="567.548182" y="314.5024" transform="rotate(-0 567.548182 314.5024)">−4</text>
     </g>
    </g>
    <g id="xtick_9">
     <g id="line2d_56">
      <path d="M 633.132327 300.0024
L 633.132327 21.96
" clip-path="url(#pb7b802564a)" style="fill: none; stroke: #b0b0b0; stroke-width: 0.8; stroke-linecap: square"/>
     </g>
     <g id="line2d_57">
      <g>
       <use href="#m1228cf1c92" x="633.132327" y="300.0024" style="stroke: #000000; stroke-width: 0.8"/>
      </g>
     </g>
     <g id="text_31">
      <text style="font-size: 10px; font-family: 'DejaVu Sans', 'Bitstream Vera Sans', 'Computer Modern Sans Serif', 'Lucida Grande', 'Verdana', 'Geneva', 'Lucid', 'Arial', 'Helvetica', 'Avant Garde', sans-serif; text-anchor: middle" x="633.132327" y="314.5024" transform="rotate(-0 633.132327 314.5024)">−3</text>
     </g>
    </g>
    <g id="xtick_10">
     <g id="line2d_58">
      <path d="M 698.716473 300.0024
L 698.716473 21.96
" clip-path="url(#pb7b802564a)" style="fill: none; stroke: #b0b0b0; stroke-width: 0.8; stroke-linecap: square"/>
     </g>
     <g id="line2d_59">
      <g>
       <use href="#m1228cf1c92" x="698.716473" y="300.0024" style="stroke: #000000; stroke-width: 0.8"/>
      </g>
     </g>
     <g id="text_32">
      <text style="font-size: 10px; font-family: 'DejaVu Sans', 'Bitstream Vera Sans', 'Computer Modern Sans Serif', 'Lucida Grande', 'Verdana', 'Geneva', 'Lucid', 'Arial', 'Helvetica', 'Avant Garde', sans-serif; text-anchor: middle" x="698.716473" y="314.5024" transform="rotate(-0 698.716473 314.5024)">−2</text>
     </g>
    </g>
    <g id="xtick_11">
     <g id="line2d_60">
      <path d="M 764.300618 300.0024
L 764.300618 21.96
" clip-path="url(#pb7b802564a)" style="fill: none; stroke: #b0b0b0; stroke-width: 0.8; stroke-linecap: square"/>
     </g>
     <g id="line2d_61">
      <g>
       <use href="#m1228cf1c92" x="764.300618" y="300.0024" style="stroke: #000000; stroke-width: 0.8"/>
      </g>
     </g>
     <g id="text_33">
      <text style="font-size: 10px; font-family: 'DejaVu Sans', 'Bitstream Vera Sans', 'Computer Modern Sans Serif', 'Lucida Grande', 'Verdana', 'Geneva', 'Lucid', 'Arial', 'Helvetica', 'Avant Garde', sans-serif; text-anchor: middle" x="764.300618" y="314.5024" transform="rotate(-0 764.300618 314.5024)">−1</text>
     </g>
    </g>
    <g id="xtick_12">
     <g id="line2d_62">
      <path d="M 829.884764 300.0024
L 829.884764 21.96
" clip-path="url(#pb7b802564a)" style="fill: none; stroke: #b0b0b0; stroke-width: 0.8; stroke-linecap: square"/>
     </g>
     <g id="line2d_63">
      <g>
       <use href="#m1228cf1c92" x="829.884764" y="300.0024" style="stroke: #000000; stroke-width: 0.8"/>
      </g>
     </g>
     <g id="text_34">
      <text style="font-size: 10px; font-family: 'DejaVu Sans', 'Bitstream Vera Sans', 'Computer Modern Sans Serif', 'Lucida Grande', 'Verdana', 'Geneva', 'Lucid', 'Arial', 'Helvetica', 'Avant Garde', sans-serif; text-anchor: middle" x="829.884764" y="314.5024" transform="rotate(-0 829.884764 314.5024)">0</text>
     </g>
    </g>
    <g id="text_35">
     <text style="font-size: 10px; font-family: 'DejaVu Sans', 'Bitstream Vera Sans', 'Computer Modern Sans Serif', 'Lucida Grande', 'Verdana', 'Geneva', 'Lucid', 'Arial', 'Helvetica', 'Avant Garde', sans-serif; text-anchor: middle" x="665.9244" y="328.0024" transform="rotate(-0 665.9244 328.0024)">z</text>
    </g>
   </g>
   <g id="matplotlib.axis_4">
    <g id="ytick_10">
     <g id="line2d_64">
      <path d="M 485.568 300.0024
L 846.2808 300.0024
" clip-path="url(#pb7b802564a)" style="fill: none; stroke: #b0b0b0; stroke-width: 0.8; stroke-linecap: square"/>
     </g>
     <g id="line2d_65">
      <g>
       <use href="#m6d36496dd9" x="485.568" y="300.0024" style="stroke: #000000; stroke-width: 0.8"/>
      </g>
     </g>
     <g id="text_36">
      <text style="font-size: 10px; font-family: 'DejaVu Sans', 'Bitstream Vera Sans', 'Computer Modern Sans Serif', 'Lucida Grande', 'Verdana', 'Geneva', 'Lucid', 'Arial', 'Helvetica', 'Avant Garde', sans-serif; text-anchor: end" x="478.568" y="303.7524" transform="rotate(-0 478.568 303.7524)">−2.0</text>
     </g>
    </g>
    <g id="ytick_11">
     <g id="line2d_66">
      <path d="M 485.568 265.2471
L 846.2808 265.2471
" clip-path="url(#pb7b802564a)" style="fill: none; stroke: #b0b0b0; stroke-width: 0.8; stroke-linecap: square"/>
     </g>
     <g id="line2d_67">
      <g>
       <use href="#m6d36496dd9" x="485.568" y="265.2471" style="stroke: #000000; stroke-width: 0.8"/>
      </g>
     </g>
     <g id="text_37">
      <text style="font-size: 10px; font-family: 'DejaVu Sans', 'Bitstream Vera Sans', 'Computer Modern Sans Serif', 'Lucida Grande', 'Verdana', 'Geneva', 'Lucid', 'Arial', 'Helvetica', 'Avant Garde', sans-serif; text-anchor: end" x="478.568" y="268.9971" transform="rotate(-0 478.568 268.9971)">−1.5</text>
     </g>
    </g>
    <g id="ytick_12">
     <g id="line2d_68">
      <path d="M 485.568 230.4918
L 846.2808 230.4918
" clip-path="url(#pb7b802564a)" style="fill: none; stroke: #b0b0b0; stroke-width: 0.8; stroke-linecap: square"/>
     </g>
     <g id="line2d_69">
      <g>
       <use href="#m6d36496dd9" x="485.568" y="230.4918" style="stroke: #000000; stroke-width: 0.8"/>
      </g>
     </g>
     <g id="text_38">
      <text style="font-size: 10px; font-family: 'DejaVu Sans', 'Bitstream Vera Sans', 'Computer Modern Sans Serif', 'Lucida Grande', 'Verdana', 'Geneva', 'Lucid', 'Arial', 'Helvetica', 'Avant Garde', sans-serif; text-anchor: end" x="478.568" y="234.2418" transform="rotate(-0 478.568 234.2418)">−1.0</text>
     </g>
    </g>
    <g id="ytick_13">
     <g id="line2d_70">
      <path d="M 485.568 195.7365
L 846.2808 195.7365
" clip-path="url(#pb7b802564a)" style="fill: none; stroke: #b0b0b0; stroke-width: 0.8; stroke-linecap: square"/>
     </g>
     <g id="line2d_71">
      <g>
       <use href="#m6d36496dd9" x="485.568" y="195.7365" style="stroke: #000000; stroke-width: 0.8"/>
      </g>
     </g>
     <g id="text_39">
      <text style="font-size: 10px; font-family: 'DejaVu Sans', 'Bitstream Vera Sans', 'Computer Modern Sans Serif', 'Lucida Grande', 'Verdana', 'Geneva', 'Lucid', 'Arial', 'Helvetica', 'Avant Garde', sans-serif; text-anchor: end" x="478.568" y="199.4865" transform="rotate(-0 478.568 199.4865)">−0.5</text>
     </g>
    </g>
    <g id="ytick_14">
     <g id="line2d_72">
      <path d="M 485.568 160.9812
L 846.2808 160.9812
" clip-path="url(#pb7b802564a)" style="fill: none; stroke: #b0b0b0; stroke-width: 0.8; stroke-linecap: square"/>
     </g>
     <g id="line2d_73">
      <g>
       <use href="#m6d36496dd9" x="485.568" y="160.9812" style="stroke: #000000; stroke-width: 0.8"/>
      </g>
     </g>
     <g id="text_40">
      <text style="font-size: 10px; font-family: 'DejaVu Sans', 'Bitstream Vera Sans', 'Computer Modern Sans Serif', 'Lucida Grande', 'Verdana', 'Geneva', 'Lucid', 'Arial', 'Helvetica', 'Avant Garde', sans-serif; text-anchor: end" x="478.568" y="164.7312" transform="rotate(-0 478.568 164.7312)">0.0</text>
     </g>
    </g>
    <g id="ytick_15">
     <g id="line2d_74">
      <path d="M 485.568 126.2259
L 846.2808 126.2259
" clip-path="url(#pb7b802564a)" style="fill: none; stroke: #b0b0b0; stroke-width: 0.8; stroke-linecap: square"/>
     </g>
     <g id="line2d_75">
      <g>
       <use href="#m6d36496dd9" x="485.568" y="126.2259" style="stroke: #000000; stroke-width: 0.8"/>
      </g>
     </g>
     <g id="text_41">
      <text style="font-size: 10px; font-family: 'DejaVu Sans', 'Bitstream Vera Sans', 'Computer Modern Sans Serif', 'Lucida Grande', 'Verdana', 'Geneva', 'Lucid', 'Arial', 'Helvetica', 'Avant Garde', sans-serif; text-anchor: end" x="478.568" y="129.9759" transform="rotate(-0 478.568 129.9759)">0.5</text>
     </g>
    </g>
    <g id="ytick_16">
     <g id="line2d_76">
      <path d="M 485.568 91.4706
L 846.2808 91.4706
" clip-path="url(#pb7b802564a)" style="fill: none; stroke: #b0b0b0; stroke-width: 0.8; stroke-linecap: square"/>
     </g>
     <g id="line2d_77">
      <g>
       <use href="#m6d36496dd9" x="485.568" y="91.4706" style="stroke: #000000; stroke-width: 0.8"/>
      </g>
     </g>
     <g id="text_42">
      <text style="font-size: 10px; font-family: 'DejaVu Sans', 'Bitstream Vera Sans', 'Computer Modern Sans Serif', 'Lucida Grande', 'Verdana', 'Geneva', 'Lucid', 'Arial', 'Helvetica', 'Avant Garde', sans-serif; text-anchor: end" x="478.568" y="95.2206" transform="rotate(-0 478.568 95.2206)">1.0</text>
     </g>
    </g>
    <g id="ytick_17">
     <g id="line2d_78">
      <path d="M 485.568 56.7153
L 846.2808 56.7153
" clip-path="url(#pb7b802564a)" style="fill: none; stroke: #b0b0b0; stroke-width: 0.8; stroke-linecap: square"/>
     </g>
     <g id="line2d_79">
      <g>
       <use href="#m6d36496dd9" x="485.568" y="56.7153" style="stroke: #000000; stroke-width: 0.8"/>
      </g>
     </g>
     <g id="text_43">
      <text style="font-size: 10px; font-family: 'DejaVu Sans', 'Bitstream Vera Sans', 'Computer Modern Sans Serif', 'Lucida Grande', 'Verdana', 'Geneva', 'Lucid', 'Arial', 'Helvetica', 'Avant Garde', sans-serif; text-anchor: end" x="478.568" y="60.4653" transform="rotate(-0 478.568 60.4653)">1.5</text>
     </g>
    </g>
    <g id="ytick_18">
     <g id="line2d_80">
      <path d="M 485.568 21.96
L 846.2808 21.96
" clip-path="url(#pb7b802564a)" style="fill: none; stroke: #b0b0b0; stroke-width: 0.8; stroke-linecap: square"/>
     </g>
     <g id="line2d_81">
      <g>
       <use href="#m6d36496dd9" x="485.568" y="21.96" style="stroke: #000000; stroke-width: 0.8"/>
      </g>
     </g>
     <g id="text_44">
      <text style="font-size: 10px; font-family: 'DejaVu Sans', 'Bitstream Vera Sans', 'Computer Modern Sans Serif', 'Lucida Grande', 'Verdana', 'Geneva', 'Lucid', 'Arial', 'Helvetica', 'Avant Garde', sans-serif; text-anchor: end" x="478.568" y="25.71" transform="rotate(-0 478.568 25.71)">2.0</text>
     </g>
    </g>
    <g id="text_45">
     <!-- P$^{[K]}$$_{SL}$(z) -->
     <g transform="translate(448.4555 180.144442) rotate(-90)">
      <text>
       <tspan x="0" y="-0.85625" style="font-size: 10px; font-family: 'DejaVu Sans'">P</tspan>
       <tspan x="25.164062" y="-0.85625" style="font-size: 10px; font-family: 'DejaVu Sans'">(</tspan>
       <tspan x="29.06543" y="-0.85625" style="font-size: 10px; font-family: 'DejaVu Sans'">z</tspan>
       <tspan x="34.314453" y="-0.85625" style="font-size: 10px; font-family: 'DejaVu Sans'">)</tspan>
       <tspan x="6.125977" y="-4.684375" style="font-size: 7px; font-family: 'DejaVu Sans'">[</tspan>
       <tspan x="13.447266" y="-4.684375" style="font-size: 7px; font-family: 'DejaVu Sans'">]</tspan>
       <tspan x="8.856934" y="-4.684375" style="font-style: oblique; font-size: 7px; font-family: 'DejaVu Sans'">K</tspan>
       <tspan x="16.547363" y="0.784375" style="font-style: oblique; font-size: 7px; font-family: 'DejaVu Sans'">S</tspan>
       <tspan x="20.990723" y="0.784375" style="font-style: oblique; font-size: 7px; font-family: 'DejaVu Sans'">L</tspan>
      </text>
     </g>
    </g>
   </g>
   <g id="line2d_82">
    <path d="M 501.964036 91.4706
L 829.884764 91.4706
L 829.884764 91.4706
" clip-path="url(#pb7b802564a)" style="fill: none; stroke: #276db0; stroke-width: 2.2; stroke-linecap: round"/>
   </g>
   <g id="line2d_83">
    <path d="M 501.964036 439.0236
L 829.884764 91.4706
L 829.884764 91.4706
" clip-path="url(#pb7b802564a)" style="fill: none; stroke-dasharray: 5.55,2.4; stroke-dashoffset: 0; stroke: #f7841f; stroke-width: 1.5"/>
   </g>
   <g id="line2d_84">
    <path d="M 638.82096 -1
L 643.441541 8.198766
L 648.925165 18.666059
L 654.408789 28.647405
L 659.892413 38.142804
L 665.376038 47.152257
L 670.859662 55.675763
L 676.343286 63.713322
L 680.730185 69.793488
L 685.117085 75.562647
L 689.503984 81.020801
L 693.890883 86.167949
L 698.277783 91.004091
L 702.664682 95.529227
L 707.051582 99.743357
L 711.438481 103.646482
L 715.82538 107.2386
L 720.21228 110.519712
L 724.599179 113.489819
L 728.986078 116.14892
L 733.372978 118.497014
L 737.759877 120.534103
L 742.146776 122.260186
L 746.533676 123.675263
L 749.82385 124.532473
L 753.114025 125.214742
L 756.404199 125.72207
L 759.694374 126.054458
L 762.984548 126.211905
L 766.274723 126.194411
L 769.564897 126.001976
L 772.855072 125.6346
L 776.145246 125.092283
L 779.435421 124.375026
L 782.725596 123.482828
L 786.01577 122.415689
L 790.402669 120.720707
L 794.789569 118.714718
L 799.176468 116.397724
L 803.563367 113.769724
L 807.950267 110.830718
L 812.337166 107.580707
L 816.724066 104.019689
L 821.110965 100.147665
L 825.497864 95.964636
L 829.884764 91.4706
L 829.884764 91.4706
" clip-path="url(#pb7b802564a)" style="fill: none; stroke: #389f38; stroke-width: 1.5; stroke-linecap: square"/>
   </g>
   <g id="line2d_85">
    <path d="M 548.740196 663.4
L 553.510104 634.157879
L 558.993728 602.007209
L 564.477352 571.377763
L 569.960976 542.228911
L 575.444601 514.520022
L 580.928225 488.210464
L 585.315124 468.143033
L 589.702024 448.924367
L 594.088923 430.533663
L 598.475822 412.950118
L 602.862722 396.15293
L 607.249621 380.121294
L 611.63652 364.834408
L 616.02342 350.27147
L 620.410319 336.411675
L 624.797218 323.23422
L 629.184118 310.718304
L 633.571017 298.843122
L 637.957917 287.587872
L 642.344816 276.93175
L 646.731715 266.853953
L 651.118615 257.333679
L 655.505514 248.350124
L 659.892413 239.882485
L 664.279313 231.909959
L 668.666212 224.411744
L 673.053111 217.367035
L 677.440011 210.75503
L 681.82691 204.554926
L 686.21381 198.74592
L 690.600709 193.307208
L 694.987608 188.217988
L 699.374508 183.457456
L 703.761407 179.00481
L 708.148306 174.839247
L 712.535206 170.939962
L 716.922105 167.286154
L 722.405729 163.032403
L 727.889353 159.089072
L 733.372978 155.415532
L 739.953327 151.306197
L 746.533676 147.45664
L 755.307474 142.606647
L 783.82232 127.160245
L 790.402669 123.24828
L 796.983018 119.057813
L 802.466643 115.30236
L 807.950267 111.264116
L 813.433891 106.902448
L 817.82079 103.152946
L 822.20769 99.149646
L 826.594589 94.871746
L 829.884764 91.4706
L 829.884764 91.4706
" clip-path="url(#pb7b802564a)" style="fill: none; stroke-dasharray: 5.55,2.4; stroke-dashoffset: 0; stroke: #d02c2c; stroke-width: 1.5"/>
   </g>
   <g id="line2d_86">
    <path d="M 608.302726 -1
L 610.539796 6.215106
L 613.82997 16.349416
L 617.120145 25.935785
L 620.410319 34.994129
L 623.700494 43.543923
L 626.990668 51.604202
L 630.280843 59.19356
L 633.571017 66.330152
L 636.861192 73.031691
L 640.151366 79.315452
L 643.441541 85.198268
L 646.731715 90.696532
L 650.02189 95.826197
L 653.312064 100.602775
L 656.602239 105.041339
L 659.892413 109.156521
L 663.182588 112.962513
L 666.472762 116.473066
L 669.762937 119.701492
L 673.053111 122.660661
L 676.343286 125.363004
L 679.633461 127.820511
L 682.923635 130.044732
L 686.21381 132.046778
L 689.503984 133.837318
L 692.794159 135.42658
L 696.084333 136.824355
L 700.471232 138.406278
L 704.858132 139.68529
L 709.245031 140.68094
L 713.631931 141.411389
L 718.01883 141.893403
L 722.405729 142.142358
L 726.792629 142.172241
L 731.179528 141.995643
L 735.566427 141.623766
L 739.953327 141.066421
L 745.436951 140.121617
L 750.920575 138.913455
L 756.404199 137.451925
L 761.887824 135.743615
L 767.371448 133.791721
L 772.855072 131.596037
L 778.338696 129.152963
L 783.82232 126.4555
L 789.305945 123.493253
L 794.789569 120.252429
L 800.273193 116.715839
L 805.756817 112.862894
L 810.143717 109.53676
L 814.530616 105.979028
L 818.917515 102.174463
L 823.304415 98.106434
L 827.691314 93.756923
L 829.884764 91.4706
L 829.884764 91.4706
" clip-path="url(#pb7b802564a)" style="fill: none; stroke: #9166bd; stroke-width: 1.5; stroke-linecap: square"/>
   </g>
   <g id="line2d_87">
    <path d="M 531.941504 663.4
L 535.962506 626.60229
L 540.349406 588.989456
L 544.736305 553.868212
L 548.02648 529.084406
L 551.316654 505.576434
L 554.606829 483.292911
L 557.897003 462.183878
L 561.187178 442.200787
L 564.477352 423.296473
L 567.767527 405.425136
L 571.057701 388.542319
L 574.347876 372.60488
L 577.63805 357.57098
L 580.928225 343.40005
L 584.218399 330.052777
L 587.508574 317.491078
L 590.798748 305.67808
L 594.088923 294.578095
L 597.379097 284.156602
L 600.669272 274.380221
L 603.959447 265.216693
L 607.249621 256.634858
L 610.539796 248.604632
L 613.82997 241.096984
L 617.120145 234.083919
L 620.410319 227.538448
L 623.700494 221.434572
L 626.990668 215.747258
L 630.280843 210.452416
L 633.571017 205.52688
L 636.861192 200.948381
L 640.151366 196.695528
L 643.441541 192.747788
L 646.731715 189.085459
L 650.02189 185.689651
L 653.312064 182.542264
L 657.698964 178.702328
L 662.085863 175.234262
L 666.472762 172.101293
L 670.859662 169.268814
L 675.246561 166.704294
L 679.633461 164.377187
L 685.117085 161.758678
L 690.600709 159.414427
L 696.084333 157.296485
L 702.664682 154.991794
L 710.341756 152.542309
L 721.309004 149.304618
L 742.146776 143.202951
L 750.920575 140.379092
L 758.597649 137.676842
L 765.177998 135.143177
L 771.758347 132.37157
L 778.338696 129.326684
L 783.82232 126.554494
L 789.305945 123.545779
L 794.789569 120.277846
L 800.273193 116.726708
L 805.756817 112.866798
L 810.143717 109.538191
L 814.530616 105.979435
L 818.917515 102.174538
L 823.304415 98.10644
L 827.691314 93.756923
L 829.884764 91.4706
L 829.884764 91.4706
" clip-path="url(#pb7b802564a)" style="fill: none; stroke-dasharray: 5.55,2.4; stroke-dashoffset: 0; stroke: #8b574c; stroke-width: 1.5"/>
   </g>
   <g id="line2d_88">
    <path d="M 564.413203 -1
L 566.670802 7.830308
L 569.960976 19.950887
L 573.251151 31.232466
L 576.541326 41.722119
L 579.8315 51.464834
L 583.121675 60.503573
L 586.411849 68.879336
L 589.702024 76.631225
L 592.992198 83.796498
L 596.282373 90.410635
L 599.572547 96.507395
L 602.862722 102.118869
L 606.152896 107.275539
L 609.443071 112.006336
L 612.733245 116.338688
L 616.02342 120.298575
L 619.313594 123.910583
L 622.603769 127.197949
L 625.893943 130.182618
L 629.184118 132.885285
L 632.474292 135.325443
L 635.764467 137.521433
L 639.054641 139.490483
L 642.344816 141.248759
L 645.63499 142.811401
L 650.02189 144.61494
L 654.408789 146.126726
L 658.795689 147.37493
L 663.182588 148.38507
L 667.569487 149.180168
L 671.956387 149.780895
L 677.440011 150.286393
L 682.923635 150.548409
L 688.407259 150.593788
L 694.987608 150.393723
L 701.567957 149.945367
L 708.148306 149.272684
L 714.728655 148.392881
L 721.309004 147.317048
L 728.986078 145.821262
L 736.663152 144.066182
L 743.243501 142.349399
L 749.82385 140.426428
L 756.404199 138.283632
L 762.984548 135.903669
L 769.564897 133.265612
L 775.048522 130.852532
L 780.532146 128.227254
L 786.01577 125.371989
L 791.499394 122.267142
L 796.983018 118.891229
L 802.466643 115.220772
L 807.950267 111.230167
L 812.337166 107.788522
L 816.724066 104.108788
L 821.110965 100.174499
L 825.497864 95.968045
L 829.884764 91.4706
L 829.884764 91.4706
" clip-path="url(#pb7b802564a)" style="fill: none; stroke: #e079c2; stroke-width: 1.5; stroke-linecap: square"/>
   </g>
   <g id="line2d_89">
    <path d="M 501.964036 587.285296
L 505.254211 555.676421
L 508.544385 526.107961
L 511.83456 498.467523
L 515.124734 472.647776
L 518.414909 448.546278
L 521.705083 426.065299
L 524.995258 405.111658
L 528.285433 385.596556
L 531.575607 367.435413
L 534.865782 350.54772
L 538.155956 334.856876
L 541.446131 320.290051
L 544.736305 306.778033
L 548.02648 294.255092
L 551.316654 282.658842
L 554.606829 271.93011
L 557.897003 262.012802
L 561.187178 252.853782
L 564.477352 244.402747
L 567.767527 236.612112
L 571.057701 229.436888
L 574.347876 222.834577
L 577.63805 216.765059
L 580.928225 211.19049
L 584.218399 206.075196
L 587.508574 201.385578
L 590.798748 197.090013
L 594.088923 193.158763
L 597.379097 189.563886
L 600.669272 186.279146
L 603.959447 183.279932
L 607.249621 180.543174
L 610.539796 178.047268
L 613.82997 175.771998
L 618.216869 173.049029
L 622.603769 170.643454
L 626.990668 168.517532
L 631.377568 166.636906
L 635.764467 164.970341
L 641.248091 163.145214
L 646.731715 161.560818
L 653.312064 159.915975
L 660.989138 158.268203
L 669.762937 156.635146
L 681.82691 154.635568
L 707.051582 150.514473
L 718.01883 148.458311
L 726.792629 146.601975
L 735.566427 144.508479
L 743.243501 142.446249
L 750.920575 140.135571
L 757.500924 137.931475
L 764.081273 135.496651
L 770.661622 132.805929
L 776.145246 130.348417
L 781.628871 127.676811
L 787.112495 124.772338
L 792.596119 121.614632
L 798.079743 118.181576
L 803.563367 114.449144
L 809.046992 110.391222
L 813.433891 106.891535
L 817.82079 103.149749
L 822.20769 99.149115
L 826.594589 94.871728
L 829.884764 91.4706
L 829.884764 91.4706
" clip-path="url(#pb7b802564a)" style="fill: none; stroke-dasharray: 5.55,2.4; stroke-dashoffset: 0; stroke: #7f7f7f; stroke-width: 1.5"/>
   </g>
   <g id="line2d_90">
    <path d="M 517.647683 -1
L 520.608359 11.771827
L 523.898533 24.893125
L 527.188708 36.975384
L 530.478882 48.09006
L 533.769057 58.304397
L 537.059231 67.681635
L 540.349406 76.281204
L 543.63958 84.158907
L 546.929755 91.367108
L 550.219929 97.9549
L 553.510104 103.968273
L 556.800278 109.450275
L 560.090453 114.441164
L 563.380627 118.978558
L 566.670802 123.097572
L 569.960976 126.830957
L 573.251151 130.209229
L 576.541326 133.260789
L 579.8315 136.012047
L 583.121675 138.487532
L 586.411849 140.710001
L 589.702024 142.700542
L 592.992198 144.478672
L 597.379097 146.550075
L 601.765997 148.314736
L 606.152896 149.80759
L 610.539796 151.059871
L 614.926695 152.099422
L 620.410319 153.137131
L 625.893943 153.923072
L 631.377568 154.493245
L 637.957917 154.935253
L 644.538266 155.153825
L 652.215339 155.17251
L 659.892413 154.976801
L 668.666212 154.529784
L 677.440011 153.873436
L 687.310534 152.90554
L 697.181058 151.70131
L 707.051582 150.253458
L 715.82538 148.746359
L 724.599179 147.010482
L 732.276253 145.282704
L 739.953327 143.337033
L 747.630401 141.147858
L 754.21075 139.055456
L 760.791099 136.741811
L 767.371448 134.183763
L 773.951797 131.355629
L 779.435421 128.7721
L 784.919045 125.963253
L 790.402669 122.909447
L 795.886294 119.589324
L 801.369918 115.979663
L 806.853542 112.055213
L 811.240441 108.670637
L 815.627341 105.051925
L 820.01424 101.182879
L 824.401139 97.046182
L 828.788039 92.62332
L 829.884764 91.4706
L 829.884764 91.4706
" clip-path="url(#pb7b802564a)" style="fill: none; stroke: #bebc2e; stroke-width: 1.5; stroke-linecap: square"/>
   </g>
   <g id="line2d_91">
    <path d="M 501.964036 287.984391
L 505.254211 276.109891
L 508.544385 265.229167
L 511.83456 255.267781
L 515.124734 246.156146
L 518.414909 237.829258
L 521.705083 230.226439
L 524.995258 223.291091
L 528.285433 216.97046
L 531.575607 211.215414
L 534.865782 205.980228
L 538.155956 201.222386
L 541.446131 196.90238
L 544.736305 192.983536
L 548.02648 189.431834
L 551.316654 186.215744
L 554.606829 183.306067
L 557.897003 180.675792
L 561.187178 178.299946
L 564.477352 176.15547
L 567.767527 174.221083
L 572.154426 171.935027
L 576.541326 169.945505
L 580.928225 168.214707
L 585.315124 166.708861
L 590.798748 165.097333
L 596.282373 163.73883
L 602.862722 162.380323
L 609.443071 161.256964
L 617.120145 160.171446
L 626.990668 159.025223
L 640.151366 157.749942
L 676.343286 154.370926
L 688.407259 152.977194
L 699.374508 151.494864
L 709.245031 149.943062
L 718.01883 148.358204
L 726.792629 146.548938
L 734.469703 144.755677
L 742.146776 142.740243
L 749.82385 140.474795
L 756.404199 138.31045
L 762.984548 135.917727
L 769.564897 133.272497
L 775.048522 130.856099
L 780.532146 128.228976
L 786.01577 125.372751
L 791.499394 122.267445
L 796.983018 118.891333
L 802.466643 115.220801
L 807.950267 111.230173
L 812.337166 107.788523
L 816.724066 104.108789
L 821.110965 100.174499
L 825.497864 95.968045
L 829.884764 91.4706
L 829.884764 91.4706
" clip-path="url(#pb7b802564a)" style="fill: none; stroke-dasharray: 5.55,2.4; stroke-dashoffset: 0; stroke: #30b8cc; stroke-width: 1.5"/>
   </g>
   <g id="line2d_92">
    <path d="M 485.568 160.9812
L 846.2808 160.9812
" clip-path="url(#pb7b802564a)" style="fill: none; stroke-dasharray: 2.96,1.28; stroke-dashoffset: 0; stroke: #000000; stroke-width: 0.8"/>
   </g>
   <g id="patch_9">
    <path d="M 485.568 300.0024
L 485.568 21.96
" style="fill: none; stroke: #000000; stroke-linejoin: miter; stroke-linecap: square"/>
   </g>
   <g id="patch_10">
    <path d="M 846.2808 300.0024
L 846.2808 21.96
" style="fill: none; stroke: #000000; stroke-linejoin: miter; stroke-linecap: square"/>
   </g>
   <g id="patch_11">
    <path d="M 485.568 300.0024
L 846.2808 300.0024
" style="fill: none; stroke: #000000; stroke-linejoin: miter; stroke-linecap: square"/>
   </g>
   <g id="patch_12">
    <path d="M 485.568 21.96
L 846.2808 21.96
" style="fill: none; stroke: #000000; stroke-linejoin: miter; stroke-linecap: square"/>
   </g>
   <g id="text_46">
    <!-- Derivative Polynomial: $\delta = 1.0$ -->
    <g transform="translate(575.9797 16.3200) scale(0.9907 1)">
     <text>
      <tspan x="0" y="-0.875" style="font-size: 12px; font-family: 'DejaVu Sans'">D</tspan>
      <tspan x="9.240234" y="-0.875" style="font-size: 12px; font-family: 'DejaVu Sans'">e</tspan>
      <tspan x="16.623047" y="-0.875" style="font-size: 12px; font-family: 'DejaVu Sans'">r</tspan>
      <tspan x="21.556641" y="-0.875" style="font-size: 12px; font-family: 'DejaVu Sans'">i</tspan>
      <tspan x="24.890625" y="-0.875" style="font-size: 12px; font-family: 'DejaVu Sans'">v</tspan>
      <tspan x="31.992188" y="-0.875" style="font-size: 12px; font-family: 'DejaVu Sans'">a</tspan>
      <tspan x="39.345703" y="-0.875" style="font-size: 12px; font-family: 'DejaVu Sans'">t</tspan>
      <tspan x="44.050781" y="-0.875" style="font-size: 12px; font-family: 'DejaVu Sans'">i</tspan>
      <tspan x="47.384766" y="-0.875" style="font-size: 12px; font-family: 'DejaVu Sans'">v</tspan>
      <tspan x="54.486328" y="-0.875" style="font-size: 12px; font-family: 'DejaVu Sans'">e</tspan>
      <tspan x="61.869141" y="-0.875" style="font-size: 12px; font-family: 'DejaVu Sans'"> </tspan>
      <tspan x="65.683594" y="-0.875" style="font-size: 12px; font-family: 'DejaVu Sans'">P</tspan>
      <tspan x="72.919922" y="-0.875" style="font-size: 12px; font-family: 'DejaVu Sans'">o</tspan>
      <tspan x="80.261719" y="-0.875" style="font-size: 12px; font-family: 'DejaVu Sans'">l</tspan>
      <tspan x="83.595703" y="-0.875" style="font-size: 12px; font-family: 'DejaVu Sans'">y</tspan>
      <tspan x="90.697266" y="-0.875" style="font-size: 12px; font-family: 'DejaVu Sans'">n</tspan>
      <tspan x="98.302734" y="-0.875" style="font-size: 12px; font-family: 'DejaVu Sans'">o</tspan>
      <tspan x="105.644531" y="-0.875" style="font-size: 12px; font-family: 'DejaVu Sans'">m</tspan>
      <tspan x="117.333984" y="-0.875" style="font-size: 12px; font-family: 'DejaVu Sans'">i</tspan>
      <tspan x="120.667969" y="-0.875" style="font-size: 12px; font-family: 'DejaVu Sans'">a</tspan>
      <tspan x="128.021484" y="-0.875" style="font-size: 12px; font-family: 'DejaVu Sans'">l</tspan>
      <tspan x="131.355469" y="-0.875" style="font-size: 12px; font-family: 'DejaVu Sans'">:</tspan>
      <tspan x="135.398438" y="-0.875" style="font-size: 12px; font-family: 'DejaVu Sans'"> </tspan>
      <tspan x="148.892578" y="-0.875" style="font-size: 12px; font-family: 'DejaVu Sans'">=</tspan>
      <tspan x="161.285156" y="-0.875" style="font-size: 12px; font-family: 'DejaVu Sans'">1</tspan>
      <tspan x="168.919922" y="-0.875" style="font-size: 12px; font-family: 'DejaVu Sans'">.</tspan>
      <tspan x="172.734375" y="-0.875" style="font-size: 12px; font-family: 'DejaVu Sans'">0</tspan>
      <tspan x="139.212891" y="-0.875" style="font-style: oblique; font-size: 12px; font-family: 'DejaVu Sans'">δ</tspan>
     </text>
    </g>
   </g>
   <g id="legend_2">
    <g id="patch_13">
     <path d="M 787.7683 296.0024
L 840.6808 296.0024
Q 842.2808 296.0024 842.2808 294.4024
L 842.2808 180.2024
Q 842.2808 178.6024 840.6808 178.6024
L 787.7683 178.6024
Q 786.1683 178.6024 786.1683 180.2024
L 786.1683 294.4024
Q 786.1683 296.0024 787.7683 296.0024
z
" style="fill: #ffffff; opacity: 0.8; stroke: #cccccc; stroke-linejoin: miter"/>
    </g>
    <g id="line2d_93">
     <path d="M 789.3683 185.0024
L 797.3683 185.0024
L 805.3683 185.0024
" style="fill: none; stroke: #276db0; stroke-width: 2; stroke-linecap: square"/>
    </g>
    <g id="text_47">
     <text style="font-size: 8px; font-family: 'DejaVu Sans', 'Bitstream Vera Sans', 'Computer Modern Sans Serif', 'Lucida Grande', 'Verdana', 'Geneva', 'Lucid', 'Arial', 'Helvetica', 'Avant Garde', sans-serif; text-anchor: start" x="811.7683" y="187.8024" transform="rotate(-0 811.7683 187.8024)">K = 1</text>
    </g>
    <g id="line2d_94">
     <path d="M 789.3683 196.5024
L 797.3683 196.5024
L 805.3683 196.5024
" style="fill: none; stroke-dasharray: 6.26,1.44; stroke-dashoffset: 0; stroke: #f7841f; stroke-width: 2"/>
    </g>
    <g id="text_48">
     <text style="font-size: 8px; font-family: 'DejaVu Sans', 'Bitstream Vera Sans', 'Computer Modern Sans Serif', 'Lucida Grande', 'Verdana', 'Geneva', 'Lucid', 'Arial', 'Helvetica', 'Avant Garde', sans-serif; text-anchor: start" x="811.7683" y="199.3024" transform="rotate(-0 811.7683 199.3024)">K = 2</text>
    </g>
    <g id="line2d_95">
     <path d="M 789.3683 208.0024
L 797.3683 208.0024
L 805.3683 208.0024
" style="fill: none; stroke: #389f38; stroke-width: 2; stroke-linecap: square"/>
    </g>
    <g id="text_49">
     <text style="font-size: 8px; font-family: 'DejaVu Sans', 'Bitstream Vera Sans', 'Computer Modern Sans Serif', 'Lucida Grande', 'Verdana', 'Geneva', 'Lucid', 'Arial', 'Helvetica', 'Avant Garde', sans-serif; text-anchor: start" x="811.7683" y="210.8024" transform="rotate(-0 811.7683 210.8024)">K = 3</text>
    </g>
    <g id="line2d_96">
     <path d="M 789.3683 219.5024
L 797.3683 219.5024
L 805.3683 219.5024
" style="fill: none; stroke-dasharray: 6.26,1.44; stroke-dashoffset: 0; stroke: #d02c2c; stroke-width: 2"/>
    </g>
    <g id="text_50">
     <text style="font-size: 8px; font-family: 'DejaVu Sans', 'Bitstream Vera Sans', 'Computer Modern Sans Serif', 'Lucida Grande', 'Verdana', 'Geneva', 'Lucid', 'Arial', 'Helvetica', 'Avant Garde', sans-serif; text-anchor: start" x="811.7683" y="222.3024" transform="rotate(-0 811.7683 222.3024)">K = 4</text>
    </g>
    <g id="line2d_97">
     <path d="M 789.3683 231.0024
L 797.3683 231.0024
L 805.3683 231.0024
" style="fill: none; stroke: #9166bd; stroke-width: 2; stroke-linecap: square"/>
    </g>
    <g id="text_51">
     <text style="font-size: 8px; font-family: 'DejaVu Sans', 'Bitstream Vera Sans', 'Computer Modern Sans Serif', 'Lucida Grande', 'Verdana', 'Geneva', 'Lucid', 'Arial', 'Helvetica', 'Avant Garde', sans-serif; text-anchor: start" x="811.7683" y="233.8024" transform="rotate(-0 811.7683 233.8024)">K = 5</text>
    </g>
    <g id="line2d_98">
     <path d="M 789.3683 242.5024
L 797.3683 242.5024
L 805.3683 242.5024
" style="fill: none; stroke-dasharray: 6.26,1.44; stroke-dashoffset: 0; stroke: #8b574c; stroke-width: 2"/>
    </g>
    <g id="text_52">
     <text style="font-size: 8px; font-family: 'DejaVu Sans', 'Bitstream Vera Sans', 'Computer Modern Sans Serif', 'Lucida Grande', 'Verdana', 'Geneva', 'Lucid', 'Arial', 'Helvetica', 'Avant Garde', sans-serif; text-anchor: start" x="811.7683" y="245.3024" transform="rotate(-0 811.7683 245.3024)">K = 6</text>
    </g>
    <g id="line2d_99">
     <path d="M 789.3683 254.0024
L 797.3683 254.0024
L 805.3683 254.0024
" style="fill: none; stroke: #e079c2; stroke-width: 2; stroke-linecap: square"/>
    </g>
    <g id="text_53">
     <text style="font-size: 8px; font-family: 'DejaVu Sans', 'Bitstream Vera Sans', 'Computer Modern Sans Serif', 'Lucida Grande', 'Verdana', 'Geneva', 'Lucid', 'Arial', 'Helvetica', 'Avant Garde', sans-serif; text-anchor: start" x="811.7683" y="256.8024" transform="rotate(-0 811.7683 256.8024)">K = 7</text>
    </g>
    <g id="line2d_100">
     <path d="M 789.3683 265.5024
L 797.3683 265.5024
L 805.3683 265.5024
" style="fill: none; stroke-dasharray: 6.26,1.44; stroke-dashoffset: 0; stroke: #7f7f7f; stroke-width: 2"/>
    </g>
    <g id="text_54">
     <text style="font-size: 8px; font-family: 'DejaVu Sans', 'Bitstream Vera Sans', 'Computer Modern Sans Serif', 'Lucida Grande', 'Verdana', 'Geneva', 'Lucid', 'Arial', 'Helvetica', 'Avant Garde', sans-serif; text-anchor: start" x="811.7683" y="268.3024" transform="rotate(-0 811.7683 268.3024)">K = 8</text>
    </g>
    <g id="line2d_101">
     <path d="M 789.3683 277.0024
L 797.3683 277.0024
L 805.3683 277.0024
" style="fill: none; stroke: #bebc2e; stroke-width: 2; stroke-linecap: square"/>
    </g>
    <g id="text_55">
     <text style="font-size: 8px; font-family: 'DejaVu Sans', 'Bitstream Vera Sans', 'Computer Modern Sans Serif', 'Lucida Grande', 'Verdana', 'Geneva', 'Lucid', 'Arial', 'Helvetica', 'Avant Garde', sans-serif; text-anchor: start" x="811.7683" y="279.8024" transform="rotate(-0 811.7683 279.8024)">K = 9</text>
    </g>
    <g id="line2d_102">
     <path d="M 789.3683 288.5024
L 797.3683 288.5024
L 805.3683 288.5024
" style="fill: none; stroke-dasharray: 6.26,1.44; stroke-dashoffset: 0; stroke: #30b8cc; stroke-width: 2"/>
    </g>
    <g id="text_56">
     <text style="font-size: 8px; font-family: 'DejaVu Sans', 'Bitstream Vera Sans', 'Computer Modern Sans Serif', 'Lucida Grande', 'Verdana', 'Geneva', 'Lucid', 'Arial', 'Helvetica', 'Avant Garde', sans-serif; text-anchor: start" x="811.7683" y="291.3024" transform="rotate(-0 811.7683 291.3024)">K = 10</text>
    </g>
   </g>
  </g>
  <g id="axes_3">
   <g id="patch_14">
    <path d="M 65.448 634.8528
L 425.9952 634.8528
L 425.9952 357.1704
L 65.448 357.1704
z
" style="fill: #ffffff"/>
   </g>
   <g id="matplotlib.axis_5">
    <g id="xtick_13">
     <g id="line2d_103">
      <path d="M 81.836509 634.8528
L 81.836509 357.1704
" clip-path="url(#p2730bad66c)" style="fill: none; stroke: #b0b0b0; stroke-width: 0.8; stroke-linecap: square"/>
     </g>
     <g id="line2d_104">
      <g>
       <use href="#m1228cf1c92" x="81.836509" y="634.8528" style="stroke: #000000; stroke-width: 0.8"/>
      </g>
     </g>
     <g id="text_57">
      <text style="font-size: 10px; font-family: 'DejaVu Sans', 'Bitstream Vera Sans', 'Computer Modern Sans Serif', 'Lucida Grande', 'Verdana', 'Geneva', 'Lucid', 'Arial', 'Helvetica', 'Avant Garde', sans-serif; text-anchor: middle" x="81.836509" y="649.3528" transform="rotate(-0 81.836509 649.3528)">−5</text>
     </g>
    </g>
    <g id="xtick_14">
     <g id="line2d_105">
      <path d="M 147.390545 634.8528
L 147.390545 357.1704
" clip-path="url(#p2730bad66c)" style="fill: none; stroke: #b0b0b0; stroke-width: 0.8; stroke-linecap: square"/>
     </g>
     <g id="line2d_106">
      <g>
       <use href="#m1228cf1c92" x="147.390545" y="634.8528" style="stroke: #000000; stroke-width: 0.8"/>
      </g>
     </g>
     <g id="text_58">
      <text style="font-size: 10px; font-family: 'DejaVu Sans', 'Bitstream Vera Sans', 'Computer Modern Sans Serif', 'Lucida Grande', 'Verdana', 'Geneva', 'Lucid', 'Arial', 'Helvetica', 'Avant Garde', sans-serif; text-anchor: middle" x="147.390545" y="649.3528" transform="rotate(-0 147.390545 649.3528)">−4</text>
     </g>
    </g>
    <g id="xtick_15">
     <g id="line2d_107">
      <path d="M 212.944582 634.8528
L 212.944582 357.1704
" clip-path="url(#p2730bad66c)" style="fill: none; stroke: #b0b0b0; stroke-width: 0.8; stroke-linecap: square"/>
     </g>
     <g id="line2d_108">
      <g>
       <use href="#m1228cf1c92" x="212.944582" y="634.8528" style="stroke: #000000; stroke-width: 0.8"/>
      </g>
     </g>
     <g id="text_59">
      <text style="font-size: 10px; font-family: 'DejaVu Sans', 'Bitstream Vera Sans', 'Computer Modern Sans Serif', 'Lucida Grande', 'Verdana', 'Geneva', 'Lucid', 'Arial', 'Helvetica', 'Avant Garde', sans-serif; text-anchor: middle" x="212.944582" y="649.3528" transform="rotate(-0 212.944582 649.3528)">−3</text>
     </g>
    </g>
    <g id="xtick_16">
     <g id="line2d_109">
      <path d="M 278.498618 634.8528
L 278.498618 357.1704
" clip-path="url(#p2730bad66c)" style="fill: none; stroke: #b0b0b0; stroke-width: 0.8; stroke-linecap: square"/>
     </g>
     <g id="line2d_110">
      <g>
       <use href="#m1228cf1c92" x="278.498618" y="634.8528" style="stroke: #000000; stroke-width: 0.8"/>
      </g>
     </g>
     <g id="text_60">
      <text style="font-size: 10px; font-family: 'DejaVu Sans', 'Bitstream Vera Sans', 'Computer Modern Sans Serif', 'Lucida Grande', 'Verdana', 'Geneva', 'Lucid', 'Arial', 'Helvetica', 'Avant Garde', sans-serif; text-anchor: middle" x="278.498618" y="649.3528" transform="rotate(-0 278.498618 649.3528)">−2</text>
     </g>
    </g>
    <g id="xtick_17">
     <g id="line2d_111">
      <path d="M 344.052655 634.8528
L 344.052655 357.1704
" clip-path="url(#p2730bad66c)" style="fill: none; stroke: #b0b0b0; stroke-width: 0.8; stroke-linecap: square"/>
     </g>
     <g id="line2d_112">
      <g>
       <use href="#m1228cf1c92" x="344.052655" y="634.8528" style="stroke: #000000; stroke-width: 0.8"/>
      </g>
     </g>
     <g id="text_61">
      <text style="font-size: 10px; font-family: 'DejaVu Sans', 'Bitstream Vera Sans', 'Computer Modern Sans Serif', 'Lucida Grande', 'Verdana', 'Geneva', 'Lucid', 'Arial', 'Helvetica', 'Avant Garde', sans-serif; text-anchor: middle" x="344.052655" y="649.3528" transform="rotate(-0 344.052655 649.3528)">−1</text>
     </g>
    </g>
    <g id="xtick_18">
     <g id="line2d_113">
      <path d="M 409.606691 634.8528
L 409.606691 357.1704
" clip-path="url(#p2730bad66c)" style="fill: none; stroke: #b0b0b0; stroke-width: 0.8; stroke-linecap: square"/>
     </g>
     <g id="line2d_114">
      <g>
       <use href="#m1228cf1c92" x="409.606691" y="634.8528" style="stroke: #000000; stroke-width: 0.8"/>
      </g>
     </g>
     <g id="text_62">
      <text style="font-size: 10px; font-family: 'DejaVu Sans', 'Bitstream Vera Sans', 'Computer Modern Sans Serif', 'Lucida Grande', 'Verdana', 'Geneva', 'Lucid', 'Arial', 'Helvetica', 'Avant Garde', sans-serif; text-anchor: middle" x="409.606691" y="649.3528" transform="rotate(-0 409.606691 649.3528)">0</text>
     </g>
    </g>
    <g id="text_63">
     <text style="font-size: 10px; font-family: 'DejaVu Sans', 'Bitstream Vera Sans', 'Computer Modern Sans Serif', 'Lucida Grande', 'Verdana', 'Geneva', 'Lucid', 'Arial', 'Helvetica', 'Avant Garde', sans-serif; text-anchor: middle" x="245.7216" y="662.8528" transform="rotate(-0 245.7216 662.8528)">z</text>
    </g>
   </g>
   <g id="matplotlib.axis_6">
    <g id="ytick_19">
     <g id="line2d_115">
      <path d="M 65.448 634.8528
L 425.9952 634.8528
" clip-path="url(#p2730bad66c)" style="fill: none; stroke: #b0b0b0; stroke-width: 0.8; stroke-linecap: square"/>
     </g>
     <g id="line2d_116">
      <g>
       <use href="#m6d36496dd9" x="65.448" y="634.8528" style="stroke: #000000; stroke-width: 0.8"/>
      </g>
     </g>
     <g id="text_64">
      <text style="font-size: 10px; font-family: 'DejaVu Sans', 'Bitstream Vera Sans', 'Computer Modern Sans Serif', 'Lucida Grande', 'Verdana', 'Geneva', 'Lucid', 'Arial', 'Helvetica', 'Avant Garde', sans-serif; text-anchor: end" x="58.448" y="638.6028" transform="rotate(-0 58.448 638.6028)">−2.0</text>
     </g>
    </g>
    <g id="ytick_20">
     <g id="line2d_117">
      <path d="M 65.448 600.1425
L 425.9952 600.1425
" clip-path="url(#p2730bad66c)" style="fill: none; stroke: #b0b0b0; stroke-width: 0.8; stroke-linecap: square"/>
     </g>
     <g id="line2d_118">
      <g>
       <use href="#m6d36496dd9" x="65.448" y="600.1425" style="stroke: #000000; stroke-width: 0.8"/>
      </g>
     </g>
     <g id="text_65">
      <text style="font-size: 10px; font-family: 'DejaVu Sans', 'Bitstream Vera Sans', 'Computer Modern Sans Serif', 'Lucida Grande', 'Verdana', 'Geneva', 'Lucid', 'Arial', 'Helvetica', 'Avant Garde', sans-serif; text-anchor: end" x="58.448" y="603.8925" transform="rotate(-0 58.448 603.8925)">−1.5</text>
     </g>
    </g>
    <g id="ytick_21">
     <g id="line2d_119">
      <path d="M 65.448 565.4322
L 425.9952 565.4322
" clip-path="url(#p2730bad66c)" style="fill: none; stroke: #b0b0b0; stroke-width: 0.8; stroke-linecap: square"/>
     </g>
     <g id="line2d_120">
      <g>
       <use href="#m6d36496dd9" x="65.448" y="565.4322" style="stroke: #000000; stroke-width: 0.8"/>
      </g>
     </g>
     <g id="text_66">
      <text style="font-size: 10px; font-family: 'DejaVu Sans', 'Bitstream Vera Sans', 'Computer Modern Sans Serif', 'Lucida Grande', 'Verdana', 'Geneva', 'Lucid', 'Arial', 'Helvetica', 'Avant Garde', sans-serif; text-anchor: end" x="58.448" y="569.1822" transform="rotate(-0 58.448 569.1822)">−1.0</text>
     </g>
    </g>
    <g id="ytick_22">
     <g id="line2d_121">
      <path d="M 65.448 530.7219
L 425.9952 530.7219
" clip-path="url(#p2730bad66c)" style="fill: none; stroke: #b0b0b0; stroke-width: 0.8; stroke-linecap: square"/>
     </g>
     <g id="line2d_122">
      <g>
       <use href="#m6d36496dd9" x="65.448" y="530.7219" style="stroke: #000000; stroke-width: 0.8"/>
      </g>
     </g>
     <g id="text_67">
      <text style="font-size: 10px; font-family: 'DejaVu Sans', 'Bitstream Vera Sans', 'Computer Modern Sans Serif', 'Lucida Grande', 'Verdana', 'Geneva', 'Lucid', 'Arial', 'Helvetica', 'Avant Garde', sans-serif; text-anchor: end" x="58.448" y="534.4719" transform="rotate(-0 58.448 534.4719)">−0.5</text>
     </g>
    </g>
    <g id="ytick_23">
     <g id="line2d_123">
      <path d="M 65.448 496.0116
L 425.9952 496.0116
" clip-path="url(#p2730bad66c)" style="fill: none; stroke: #b0b0b0; stroke-width: 0.8; stroke-linecap: square"/>
     </g>
     <g id="line2d_124">
      <g>
       <use href="#m6d36496dd9" x="65.448" y="496.0116" style="stroke: #000000; stroke-width: 0.8"/>
      </g>
     </g>
     <g id="text_68">
      <text style="font-size: 10px; font-family: 'DejaVu Sans', 'Bitstream Vera Sans', 'Computer Modern Sans Serif', 'Lucida Grande', 'Verdana', 'Geneva', 'Lucid', 'Arial', 'Helvetica', 'Avant Garde', sans-serif; text-anchor: end" x="58.448" y="499.7616" transform="rotate(-0 58.448 499.7616)">0.0</text>
     </g>
    </g>
    <g id="ytick_24">
     <g id="line2d_125">
      <path d="M 65.448 461.3013
L 425.9952 461.3013
" clip-path="url(#p2730bad66c)" style="fill: none; stroke: #b0b0b0; stroke-width: 0.8; stroke-linecap: square"/>
     </g>
     <g id="line2d_126">
      <g>
       <use href="#m6d36496dd9" x="65.448" y="461.3013" style="stroke: #000000; stroke-width: 0.8"/>
      </g>
     </g>
     <g id="text_69">
      <text style="font-size: 10px; font-family: 'DejaVu Sans', 'Bitstream Vera Sans', 'Computer Modern Sans Serif', 'Lucida Grande', 'Verdana', 'Geneva', 'Lucid', 'Arial', 'Helvetica', 'Avant Garde', sans-serif; text-anchor: end" x="58.448" y="465.0513" transform="rotate(-0 58.448 465.0513)">0.5</text>
     </g>
    </g>
    <g id="ytick_25">
     <g id="line2d_127">
      <path d="M 65.448 426.591
L 425.9952 426.591
" clip-path="url(#p2730bad66c)" style="fill: none; stroke: #b0b0b0; stroke-width: 0.8; stroke-linecap: square"/>
     </g>
     <g id="line2d_128">
      <g>
       <use href="#m6d36496dd9" x="65.448" y="426.591" style="stroke: #000000; stroke-width: 0.8"/>
      </g>
     </g>
     <g id="text_70">
      <text style="font-size: 10px; font-family: 'DejaVu Sans', 'Bitstream Vera Sans', 'Computer Modern Sans Serif', 'Lucida Grande', 'Verdana', 'Geneva', 'Lucid', 'Arial', 'Helvetica', 'Avant Garde', sans-serif; text-anchor: end" x="58.448" y="430.341" transform="rotate(-0 58.448 430.341)">1.0</text>
     </g>
    </g>
    <g id="ytick_26">
     <g id="line2d_129">
      <path d="M 65.448 391.8807
L 425.9952 391.8807
" clip-path="url(#p2730bad66c)" style="fill: none; stroke: #b0b0b0; stroke-width: 0.8; stroke-linecap: square"/>
     </g>
     <g id="line2d_130">
      <g>
       <use href="#m6d36496dd9" x="65.448" y="391.8807" style="stroke: #000000; stroke-width: 0.8"/>
      </g>
     </g>
     <g id="text_71">
      <text style="font-size: 10px; font-family: 'DejaVu Sans', 'Bitstream Vera Sans', 'Computer Modern Sans Serif', 'Lucida Grande', 'Verdana', 'Geneva', 'Lucid', 'Arial', 'Helvetica', 'Avant Garde', sans-serif; text-anchor: end" x="58.448" y="395.6307" transform="rotate(-0 58.448 395.6307)">1.5</text>
     </g>
    </g>
    <g id="ytick_27">
     <g id="line2d_131">
      <path d="M 65.448 357.1704
L 425.9952 357.1704
" clip-path="url(#p2730bad66c)" style="fill: none; stroke: #b0b0b0; stroke-width: 0.8; stroke-linecap: square"/>
     </g>
     <g id="line2d_132">
      <g>
       <use href="#m6d36496dd9" x="65.448" y="357.1704" style="stroke: #000000; stroke-width: 0.8"/>
      </g>
     </g>
     <g id="text_72">
      <text style="font-size: 10px; font-family: 'DejaVu Sans', 'Bitstream Vera Sans', 'Computer Modern Sans Serif', 'Lucida Grande', 'Verdana', 'Geneva', 'Lucid', 'Arial', 'Helvetica', 'Avant Garde', sans-serif; text-anchor: end" x="58.448" y="360.9204" transform="rotate(-0 58.448 360.9204)">2.0</text>
     </g>
    </g>
    <g id="text_73">
     <!-- P$^{[K]}$$_{SL}$(z) -->
     <g transform="translate(28.3355 515.174842) rotate(-90)">
      <text>
       <tspan x="0" y="-0.85625" style="font-size: 10px; font-family: 'DejaVu Sans'">P</tspan>
       <tspan x="25.164062" y="-0.85625" style="font-size: 10px; font-family: 'DejaVu Sans'">(</tspan>
       <tspan x="29.06543" y="-0.85625" style="font-size: 10px; font-family: 'DejaVu Sans'">z</tspan>
       <tspan x="34.314453" y="-0.85625" style="font-size: 10px; font-family: 'DejaVu Sans'">)</tspan>
       <tspan x="6.125977" y="-4.684375" style="font-size: 7px; font-family: 'DejaVu Sans'">[</tspan>
       <tspan x="13.447266" y="-4.684375" style="font-size: 7px; font-family: 'DejaVu Sans'">]</tspan>
       <tspan x="8.856934" y="-4.684375" style="font-style: oblique; font-size: 7px; font-family: 'DejaVu Sans'">K</tspan>
       <tspan x="16.547363" y="0.784375" style="font-style: oblique; font-size: 7px; font-family: 'DejaVu Sans'">S</tspan>
       <tspan x="20.990723" y="0.784375" style="font-style: oblique; font-size: 7px; font-family: 'DejaVu Sans'">L</tspan>
      </text>
     </g>
    </g>
   </g>
   <g id="line2d_133">
    <path d="M 81.836509 438.1611
L 409.606691 438.1611
L 409.606691 438.1611
" clip-path="url(#p2730bad66c)" style="fill: none; stroke: #276db0; stroke-width: 2.2; stroke-linecap: round"/>
   </g>
   <g id="line2d_134">
    <path d="M 103.327871 663.4
L 409.606691 438.1611
L 409.606691 438.1611
" clip-path="url(#p2730bad66c)" style="fill: none; stroke-dasharray: 5.55,2.4; stroke-dashoffset: 0; stroke: #f7841f; stroke-width: 1.5"/>
   </g>
   <g id="line2d_135">
    <path d="M 81.836509 177.030371
L 89.510058 194.625154
L 97.183608 211.669462
L 104.857157 228.163294
L 112.530707 244.10665
L 120.204256 259.49953
L 127.877806 274.341934
L 135.551355 288.633862
L 142.128683 300.445952
L 148.706011 311.853611
L 155.283339 322.856838
L 161.860667 333.455634
L 168.437995 343.649999
L 175.015323 353.439933
L 181.592651 362.825435
L 188.169979 371.806506
L 194.747308 380.383146
L 201.324636 388.555354
L 207.901964 396.323132
L 214.479292 403.686477
L 219.960398 409.513658
L 225.441505 415.059984
L 230.922612 420.325455
L 236.403719 425.310071
L 241.884825 430.013831
L 247.365932 434.436737
L 252.847039 438.578788
L 258.328145 442.439983
L 263.809252 446.020324
L 269.290359 449.319809
L 274.771466 452.338439
L 280.252572 455.076214
L 285.733679 457.533135
L 291.214786 459.7092
L 296.695892 461.60441
L 302.176999 463.218765
L 307.658106 464.552264
L 313.139213 465.604909
L 318.620319 466.376699
L 323.005205 466.791915
L 327.39009 467.027384
L 331.774975 467.083106
L 336.159861 466.95908
L 340.544746 466.655307
L 344.929632 466.171787
L 349.314517 465.50852
L 354.795624 464.426666
L 360.27673 463.063957
L 365.757837 461.420393
L 371.238944 459.495974
L 376.720051 457.2907
L 382.201157 454.804571
L 387.682264 452.037587
L 393.163371 448.989748
L 398.644477 445.661054
L 404.125584 442.051504
L 409.606691 438.1611
L 409.606691 438.1611
" clip-path="url(#p2730bad66c)" style="fill: none; stroke: #389f38; stroke-width: 1.5; stroke-linecap: square"/>
   </g>
   <g id="line2d_136">
    <path d="M 148.795285 663.4
L 154.187118 651.09847
L 159.668225 639.220067
L 165.149331 627.953157
L 170.630438 617.278172
L 176.111545 607.175542
L 181.592651 597.625699
L 187.073758 588.609074
L 192.554865 580.106098
L 198.035972 572.0972
L 203.517078 564.562814
L 208.998185 557.483368
L 214.479292 550.839295
L 219.960398 544.611026
L 225.441505 538.77899
L 230.922612 533.32362
L 236.403719 528.225345
L 241.884825 523.464598
L 247.365932 519.021809
L 252.847039 514.877409
L 258.328145 511.011828
L 263.809252 507.405499
L 269.290359 504.038851
L 275.867687 500.2877
L 282.445015 496.819697
L 289.022343 493.601025
L 296.695892 490.115922
L 304.369442 486.870463
L 314.235434 482.963444
L 327.39009 478.034977
L 349.314517 469.849588
L 359.180509 465.898665
L 366.854058 462.605734
L 374.527608 459.061498
L 381.104936 455.78286
L 387.682264 452.246324
L 394.259592 448.418074
L 399.740699 444.980633
L 405.221806 441.297562
L 409.606691 438.1611
L 409.606691 438.1611
" clip-path="url(#p2730bad66c)" style="fill: none; stroke-dasharray: 5.55,2.4; stroke-dashoffset: 0; stroke: #d02c2c; stroke-width: 1.5"/>
   </g>
   <g id="line2d_137">
    <path d="M 81.836509 147.969348
L 86.221394 168.576235
L 90.60628 188.223417
L 94.991165 206.941786
L 99.376051 224.761673
L 103.760936 241.71285
L 108.145821 257.824534
L 112.530707 273.125379
L 116.915592 287.643484
L 121.300477 301.406389
L 125.685363 314.441073
L 130.070248 326.773959
L 134.455134 338.430911
L 138.840019 349.437234
L 143.224904 359.817675
L 147.60979 369.596423
L 151.994675 378.797107
L 156.37956 387.442798
L 160.764446 395.556009
L 165.149331 403.158695
L 169.534217 410.272252
L 173.919102 416.917516
L 178.303987 423.114767
L 182.688873 428.883725
L 187.073758 434.243552
L 191.458643 439.212851
L 195.843529 443.809668
L 200.228414 448.051488
L 204.6133 451.95524
L 208.998185 455.537292
L 213.38307 458.813457
L 217.767956 461.798986
L 222.152841 464.508573
L 226.537726 466.956354
L 230.922612 469.155905
L 235.307497 471.120245
L 239.692383 472.861835
L 244.077268 474.392575
L 248.462153 475.723809
L 253.94326 477.123671
L 259.424367 478.248451
L 264.905474 479.11662
L 270.38658 479.74529
L 275.867687 480.150204
L 281.348794 480.345745
L 286.8299 480.344933
L 293.407228 480.101086
L 299.984557 479.60875
L 306.561885 478.882646
L 313.139213 477.934667
L 319.716541 476.77388
L 326.293869 475.406524
L 332.871197 473.836011
L 339.448525 472.062925
L 346.025853 470.085023
L 352.603181 467.897235
L 359.180509 465.491662
L 365.757837 462.857581
L 372.335165 459.981437
L 378.912493 456.846852
L 385.489821 453.434618
L 390.970928 450.363185
L 396.452035 447.069436
L 401.933142 443.537758
L 407.414248 439.751172
L 409.606691 438.1611
L 409.606691 438.1611
" clip-path="url(#p2730bad66c)" style="fill: none; stroke: #9166bd; stroke-width: 1.5; stroke-linecap: square"/>
   </g>
   <g id="line2d_138">
    <path d="M 105.834951 663.4
L 109.242043 652.985631
L 113.626928 640.350744
L 118.011813 628.535943
L 122.396699 617.49875
L 126.781584 607.198199
L 131.16647 597.594803
L 135.551355 588.650526
L 139.93624 580.328751
L 144.321126 572.594247
L 148.706011 565.413138
L 153.090896 558.752876
L 157.475782 552.582204
L 161.860667 546.87113
L 166.245553 541.59089
L 170.630438 536.713925
L 175.015323 532.213842
L 179.400209 528.065387
L 183.785094 524.244414
L 188.169979 520.727851
L 192.554865 517.493672
L 196.93975 514.520866
L 201.324636 511.789401
L 205.709521 509.280199
L 211.190628 506.428676
L 216.671734 503.862611
L 222.152841 501.55056
L 227.633948 499.463057
L 234.211276 497.215754
L 240.788604 495.207912
L 248.462153 493.113841
L 257.231924 490.976157
L 267.097916 488.802468
L 282.445015 485.682026
L 304.369442 481.215575
L 315.331655 478.762824
L 325.197647 476.334334
L 333.967418 473.950831
L 341.640968 471.658672
L 349.314517 469.145297
L 356.988066 466.382876
L 363.565394 463.794886
L 370.142723 460.983319
L 376.720051 457.927713
L 383.297379 454.606198
L 389.874707 450.995259
L 395.355813 447.746795
L 400.83692 444.263932
L 406.318027 440.529742
L 409.606691 438.1611
L 409.606691 438.1611
" clip-path="url(#p2730bad66c)" style="fill: none; stroke-dasharray: 5.55,2.4; stroke-dashoffset: 0; stroke: #8b574c; stroke-width: 1.5"/>
   </g>
   <g id="line2d_139">
    <path d="M 81.836509 332.964286
L 85.125173 343.425402
L 88.413837 353.305321
L 91.702501 362.630264
L 94.991165 371.425527
L 98.279829 379.715495
L 101.568493 387.523676
L 104.857157 394.87271
L 108.145821 401.784403
L 111.434485 408.27974
L 114.723149 414.378908
L 118.011813 420.101321
L 121.300477 425.465634
L 124.589142 430.489767
L 127.877806 435.190925
L 131.16647 439.585615
L 134.455134 443.68967
L 137.743798 447.51826
L 141.032462 451.085919
L 145.417347 455.460863
L 149.802232 459.427907
L 154.187118 463.016534
L 158.572003 466.254465
L 162.956889 469.167734
L 167.341774 471.780753
L 171.726659 474.116383
L 176.111545 476.195995
L 180.49643 478.039538
L 184.881315 479.6656
L 189.266201 481.091468
L 194.747308 482.616608
L 200.228414 483.882674
L 205.709521 484.915688
L 211.190628 485.739105
L 217.767956 486.480009
L 224.345284 486.981372
L 230.922612 487.270943
L 238.596161 487.372552
L 246.269711 487.24941
L 255.039481 486.865443
L 263.809252 486.249071
L 272.579023 485.420164
L 282.445015 484.248426
L 292.311007 482.829684
L 302.176999 481.160851
L 310.94677 479.457971
L 319.716541 477.534253
L 328.486311 475.371061
L 336.159861 473.263685
L 343.83341 470.936885
L 351.50696 468.369648
L 359.180509 465.538268
L 365.757837 462.881113
L 372.335165 459.992039
L 378.912493 456.850929
L 385.489821 453.435857
L 390.970928 450.36353
L 396.452035 447.069498
L 401.933142 443.537762
L 407.414248 439.751172
L 409.606691 438.1611
L 409.606691 438.1611
" clip-path="url(#p2730bad66c)" style="fill: none; stroke: #e079c2; stroke-width: 1.5; stroke-linecap: square"/>
   </g>
   <g id="line2d_140">
    <path d="M 81.836509 583.228002
L 85.125173 576.632383
L 88.413837 570.46186
L 91.702501 564.692687
L 94.991165 559.302194
L 98.279829 554.26875
L 101.568493 549.571726
L 104.857157 545.191455
L 108.145821 541.109203
L 111.434485 537.307125
L 114.723149 533.768242
L 119.108035 529.43134
L 123.49292 525.497607
L 127.877806 521.933325
L 132.262691 518.70703
L 136.647576 515.789397
L 141.032462 513.15312
L 145.417347 510.7728
L 149.802232 508.624836
L 154.187118 506.68732
L 159.668225 504.530569
L 165.149331 502.634606
L 170.630438 500.966403
L 177.207766 499.223282
L 183.785094 497.718897
L 191.458643 496.21114
L 200.228414 494.745258
L 210.094406 493.338318
L 223.249062 491.719862
L 274.771466 485.680234
L 286.8299 483.907291
L 297.792114 482.068558
L 307.658106 480.192061
L 316.427877 478.32016
L 325.197647 476.230495
L 333.967418 473.896053
L 341.640968 471.629376
L 349.314517 469.130793
L 356.988066 466.376367
L 363.565394 463.791927
L 370.142723 460.98213
L 376.720051 457.92731
L 383.297379 454.606091
L 389.874707 450.99524
L 395.355813 447.746792
L 400.83692 444.263932
L 406.318027 440.529742
L 409.606691 438.1611
L 409.606691 438.1611
" clip-path="url(#p2730bad66c)" style="fill: none; stroke-dasharray: 5.55,2.4; stroke-dashoffset: 0; stroke: #7f7f7f; stroke-width: 1.5"/>
   </g>
   <g id="line2d_141">
    <path d="M 81.836509 452.882317
L 85.125173 456.389096
L 88.413837 459.629108
L 91.702501 462.619626
L 94.991165 465.376951
L 99.376051 468.717085
L 103.760936 471.703907
L 108.145821 474.368818
L 112.530707 476.740765
L 116.915592 478.846391
L 121.300477 480.710189
L 125.685363 482.354637
L 130.070248 483.800334
L 135.551355 485.356513
L 141.032462 486.664714
L 146.513568 487.75453
L 153.090896 488.810798
L 159.668225 489.629894
L 167.341774 490.330851
L 175.015323 490.800565
L 183.785094 491.101839
L 193.651086 491.192991
L 204.6133 491.042233
L 215.575513 490.67094
L 227.633948 490.043263
L 239.692383 489.206072
L 251.750817 488.164713
L 263.809252 486.911601
L 275.867687 485.42831
L 286.8299 483.85677
L 296.695892 482.237591
L 306.561885 480.399558
L 315.331655 478.559423
L 324.101426 476.501717
L 332.871197 474.201054
L 340.544746 471.966348
L 348.218296 469.502617
L 355.891845 466.786422
L 362.469173 464.237785
L 369.046501 461.466887
L 375.623829 458.454345
L 382.201157 455.179089
L 388.778485 451.618208
L 394.259592 448.414714
L 399.740699 444.980052
L 405.221806 441.297539
L 409.606691 438.1611
L 409.606691 438.1611
" clip-path="url(#p2730bad66c)" style="fill: none; stroke: #bebc2e; stroke-width: 1.5; stroke-linecap: square"/>
   </g>
   <g id="line2d_142">
    <path d="M 81.836509 513.227542
L 86.221394 510.954347
L 90.60628 508.925308
L 94.991165 507.115686
L 100.472272 505.12797
L 105.953379 503.40807
L 111.434485 501.920495
L 118.011813 500.397912
L 124.589142 499.116811
L 132.262691 497.872578
L 141.032462 496.713115
L 150.898454 495.661704
L 162.956889 494.630563
L 178.303987 493.559658
L 232.018833 490.005276
L 247.365932 488.674875
L 260.520588 487.325517
L 272.579023 485.880643
L 283.541236 484.363248
L 294.50345 482.620314
L 304.369442 480.830484
L 314.235434 478.801752
L 323.005205 476.772046
L 331.774975 474.503011
L 339.448525 472.299152
L 347.122074 469.869484
L 354.795624 467.190865
L 361.372952 464.677495
L 367.95028 461.944941
L 374.527608 458.974089
L 381.104936 455.744158
L 387.682264 452.232554
L 393.163371 449.073393
L 398.644477 445.686262
L 404.125584 442.05471
L 409.606691 438.1611
L 409.606691 438.1611
" clip-path="url(#p2730bad66c)" style="fill: none; stroke-dasharray: 5.55,2.4; stroke-dashoffset: 0; stroke: #30b8cc; stroke-width: 1.5"/>
   </g>
   <g id="line2d_143">
    <path d="M 65.448 496.0116
L 425.9952 496.0116
" clip-path="url(#p2730bad66c)" style="fill: none; stroke-dasharray: 2.96,1.28; stroke-dashoffset: 0; stroke: #000000; stroke-width: 0.8"/>
   </g>
   <g id="patch_15">
    <path d="M 65.448 634.8528
L 65.448 357.1704
" style="fill: none; stroke: #000000; stroke-linejoin: miter; stroke-linecap: square"/>
   </g>
   <g id="patch_16">
    <path d="M 425.9952 634.8528
L 425.9952 357.1704
" style="fill: none; stroke: #000000; stroke-linejoin: miter; stroke-linecap: square"/>
   </g>
   <g id="patch_17">
    <path d="M 65.448 634.8528
L 425.9952 634.8528
" style="fill: none; stroke: #000000; stroke-linejoin: miter; stroke-linecap: square"/>
   </g>
   <g id="patch_18">
    <path d="M 65.448 357.1704
L 425.9952 357.1704
" style="fill: none; stroke: #000000; stroke-linejoin: miter; stroke-linecap: square"/>
   </g>
   <g id="text_74">
    <!-- Derivative Polynomial: $\delta = 1.2$ -->
    <g transform="translate(156.3082 351.5304) scale(0.9907 1)">
     <text>
      <tspan x="0" y="-0.875" style="font-size: 12px; font-family: 'DejaVu Sans'">D</tspan>
      <tspan x="9.240234" y="-0.875" style="font-size: 12px; font-family: 'DejaVu Sans'">e</tspan>
      <tspan x="16.623047" y="-0.875" style="font-size: 12px; font-family: 'DejaVu Sans'">r</tspan>
      <tspan x="21.556641" y="-0.875" style="font-size: 12px; font-family: 'DejaVu Sans'">i</tspan>
      <tspan x="24.890625" y="-0.875" style="font-size: 12px; font-family: 'DejaVu Sans'">v</tspan>
      <tspan x="31.992188" y="-0.875" style="font-size: 12px; font-family: 'DejaVu Sans'">a</tspan>
      <tspan x="39.345703" y="-0.875" style="font-size: 12px; font-family: 'DejaVu Sans'">t</tspan>
      <tspan x="44.050781" y="-0.875" style="font-size: 12px; font-family: 'DejaVu Sans'">i</tspan>
      <tspan x="47.384766" y="-0.875" style="font-size: 12px; font-family: 'DejaVu Sans'">v</tspan>
      <tspan x="54.486328" y="-0.875" style="font-size: 12px; font-family: 'DejaVu Sans'">e</tspan>
      <tspan x="61.869141" y="-0.875" style="font-size: 12px; font-family: 'DejaVu Sans'"> </tspan>
      <tspan x="65.683594" y="-0.875" style="font-size: 12px; font-family: 'DejaVu Sans'">P</tspan>
      <tspan x="72.919922" y="-0.875" style="font-size: 12px; font-family: 'DejaVu Sans'">o</tspan>
      <tspan x="80.261719" y="-0.875" style="font-size: 12px; font-family: 'DejaVu Sans'">l</tspan>
      <tspan x="83.595703" y="-0.875" style="font-size: 12px; font-family: 'DejaVu Sans'">y</tspan>
      <tspan x="90.697266" y="-0.875" style="font-size: 12px; font-family: 'DejaVu Sans'">n</tspan>
      <tspan x="98.302734" y="-0.875" style="font-size: 12px; font-family: 'DejaVu Sans'">o</tspan>
      <tspan x="105.644531" y="-0.875" style="font-size: 12px; font-family: 'DejaVu Sans'">m</tspan>
      <tspan x="117.333984" y="-0.875" style="font-size: 12px; font-family: 'DejaVu Sans'">i</tspan>
      <tspan x="120.667969" y="-0.875" style="font-size: 12px; font-family: 'DejaVu Sans'">a</tspan>
      <tspan x="128.021484" y="-0.875" style="font-size: 12px; font-family: 'DejaVu Sans'">l</tspan>
      <tspan x="131.355469" y="-0.875" style="font-size: 12px; font-family: 'DejaVu Sans'">:</tspan>
      <tspan x="135.398438" y="-0.875" style="font-size: 12px; font-family: 'DejaVu Sans'"> </tspan>
      <tspan x="148.892578" y="-0.875" style="font-size: 12px; font-family: 'DejaVu Sans'">=</tspan>
      <tspan x="161.285156" y="-0.875" style="font-size: 12px; font-family: 'DejaVu Sans'">1</tspan>
      <tspan x="168.919922" y="-0.875" style="font-size: 12px; font-family: 'DejaVu Sans'">.</tspan>
      <tspan x="172.109375" y="-0.875" style="font-size: 12px; font-family: 'DejaVu Sans'">2</tspan>
      <tspan x="139.212891" y="-0.875" style="font-style: oblique; font-size: 12px; font-family: 'DejaVu Sans'">δ</tspan>
     </text>
    </g>
   </g>
   <g id="legend_3">
    <g id="patch_19">
     <path d="M 367.4827 630.8528
L 420.3952 630.8528
Q 421.9952 630.8528 421.9952 629.2528
L 421.9952 515.0528
Q 421.9952 513.4528 420.3952 513.4528
L 367.4827 513.4528
Q 365.8827 513.4528 365.8827 515.0528
L 365.8827 629.2528
Q 365.8827 630.8528 367.4827 630.8528
z
" style="fill: #ffffff; opacity: 0.8; stroke: #cccccc; stroke-linejoin: miter"/>
    </g>
    <g id="line2d_144">
     <path d="M 369.0827 519.8528
L 377.0827 519.8528
L 385.0827 519.8528
" style="fill: none; stroke: #276db0; stroke-width: 2; stroke-linecap: square"/>
    </g>
    <g id="text_75">
     <text style="font-size: 8px; font-family: 'DejaVu Sans', 'Bitstream Vera Sans', 'Computer Modern Sans Serif', 'Lucida Grande', 'Verdana', 'Geneva', 'Lucid', 'Arial', 'Helvetica', 'Avant Garde', sans-serif; text-anchor: start" x="391.4827" y="522.6528" transform="rotate(-0 391.4827 522.6528)">K = 1</text>
    </g>
    <g id="line2d_145">
     <path d="M 369.0827 531.3528
L 377.0827 531.3528
L 385.0827 531.3528
" style="fill: none; stroke-dasharray: 6.26,1.44; stroke-dashoffset: 0; stroke: #f7841f; stroke-width: 2"/>
    </g>
    <g id="text_76">
     <text style="font-size: 8px; font-family: 'DejaVu Sans', 'Bitstream Vera Sans', 'Computer Modern Sans Serif', 'Lucida Grande', 'Verdana', 'Geneva', 'Lucid', 'Arial', 'Helvetica', 'Avant Garde', sans-serif; text-anchor: start" x="391.4827" y="534.1528" transform="rotate(-0 391.4827 534.1528)">K = 2</text>
    </g>
    <g id="line2d_146">
     <path d="M 369.0827 542.8528
L 377.0827 542.8528
L 385.0827 542.8528
" style="fill: none; stroke: #389f38; stroke-width: 2; stroke-linecap: square"/>
    </g>
    <g id="text_77">
     <text style="font-size: 8px; font-family: 'DejaVu Sans', 'Bitstream Vera Sans', 'Computer Modern Sans Serif', 'Lucida Grande', 'Verdana', 'Geneva', 'Lucid', 'Arial', 'Helvetica', 'Avant Garde', sans-serif; text-anchor: start" x="391.4827" y="545.6528" transform="rotate(-0 391.4827 545.6528)">K = 3</text>
    </g>
    <g id="line2d_147">
     <path d="M 369.0827 554.3528
L 377.0827 554.3528
L 385.0827 554.3528
" style="fill: none; stroke-dasharray: 6.26,1.44; stroke-dashoffset: 0; stroke: #d02c2c; stroke-width: 2"/>
    </g>
    <g id="text_78">
     <text style="font-size: 8px; font-family: 'DejaVu Sans', 'Bitstream Vera Sans', 'Computer Modern Sans Serif', 'Lucida Grande', 'Verdana', 'Geneva', 'Lucid', 'Arial', 'Helvetica', 'Avant Garde', sans-serif; text-anchor: start" x="391.4827" y="557.1528" transform="rotate(-0 391.4827 557.1528)">K = 4</text>
    </g>
    <g id="line2d_148">
     <path d="M 369.0827 565.8528
L 377.0827 565.8528
L 385.0827 565.8528
" style="fill: none; stroke: #9166bd; stroke-width: 2; stroke-linecap: square"/>
    </g>
    <g id="text_79">
     <text style="font-size: 8px; font-family: 'DejaVu Sans', 'Bitstream Vera Sans', 'Computer Modern Sans Serif', 'Lucida Grande', 'Verdana', 'Geneva', 'Lucid', 'Arial', 'Helvetica', 'Avant Garde', sans-serif; text-anchor: start" x="391.4827" y="568.6528" transform="rotate(-0 391.4827 568.6528)">K = 5</text>
    </g>
    <g id="line2d_149">
     <path d="M 369.0827 577.3528
L 377.0827 577.3528
L 385.0827 577.3528
" style="fill: none; stroke-dasharray: 6.26,1.44; stroke-dashoffset: 0; stroke: #8b574c; stroke-width: 2"/>
    </g>
    <g id="text_80">
     <text style="font-size: 8px; font-family: 'DejaVu Sans', 'Bitstream Vera Sans', 'Computer Modern Sans Serif', 'Lucida Grande', 'Verdana', 'Geneva', 'Lucid', 'Arial', 'Helvetica', 'Avant Garde', sans-serif; text-anchor: start" x="391.4827" y="580.1528" transform="rotate(-0 391.4827 580.1528)">K = 6</text>
    </g>
    <g id="line2d_150">
     <path d="M 369.0827 588.8528
L 377.0827 588.8528
L 385.0827 588.8528
" style="fill: none; stroke: #e079c2; stroke-width: 2; stroke-linecap: square"/>
    </g>
    <g id="text_81">
     <text style="font-size: 8px; font-family: 'DejaVu Sans', 'Bitstream Vera Sans', 'Computer Modern Sans Serif', 'Lucida Grande', 'Verdana', 'Geneva', 'Lucid', 'Arial', 'Helvetica', 'Avant Garde', sans-serif; text-anchor: start" x="391.4827" y="591.6528" transform="rotate(-0 391.4827 591.6528)">K = 7</text>
    </g>
    <g id="line2d_151">
     <path d="M 369.0827 600.3528
L 377.0827 600.3528
L 385.0827 600.3528
" style="fill: none; stroke-dasharray: 6.26,1.44; stroke-dashoffset: 0; stroke: #7f7f7f; stroke-width: 2"/>
    </g>
    <g id="text_82">
     <text style="font-size: 8px; font-family: 'DejaVu Sans', 'Bitstream Vera Sans', 'Computer Modern Sans Serif', 'Lucida Grande', 'Verdana', 'Geneva', 'Lucid', 'Arial', 'Helvetica', 'Avant Garde', sans-serif; text-anchor: start" x="391.4827" y="603.1528" transform="rotate(-0 391.4827 603.1528)">K = 8</text>
    </g>
    <g id="line2d_152">
     <path d="M 369.0827 611.8528
L 377.0827 611.8528
L 385.0827 611.8528
" style="fill: none; stroke: #bebc2e; stroke-width: 2; stroke-linecap: square"/>
    </g>
    <g id="text_83">
     <text style="font-size: 8px; font-family: 'DejaVu Sans', 'Bitstream Vera Sans', 'Computer Modern Sans Serif', 'Lucida Grande', 'Verdana', 'Geneva', 'Lucid', 'Arial', 'Helvetica', 'Avant Garde', sans-serif; text-anchor: start" x="391.4827" y="614.6528" transform="rotate(-0 391.4827 614.6528)">K = 9</text>
    </g>
    <g id="line2d_153">
     <path d="M 369.0827 623.3528
L 377.0827 623.3528
L 385.0827 623.3528
" style="fill: none; stroke-dasharray: 6.26,1.44; stroke-dashoffset: 0; stroke: #30b8cc; stroke-width: 2"/>
    </g>
    <g id="text_84">
     <text style="font-size: 8px; font-family: 'DejaVu Sans', 'Bitstream Vera Sans', 'Computer Modern Sans Serif', 'Lucida Grande', 'Verdana', 'Geneva', 'Lucid', 'Arial', 'Helvetica', 'Avant Garde', sans-serif; text-anchor: start" x="391.4827" y="626.1528" transform="rotate(-0 391.4827 626.1528)">K = 10</text>
    </g>
   </g>
  </g>
  <g id="axes_4">
   <g id="patch_20">
    <path d="M 485.568 634.8528
L 846.2808 634.8528
L 846.2808 357.1704
L 485.568 357.1704
z
" style="fill: #ffffff"/>
   </g>
   <g id="matplotlib.axis_7">
    <g id="xtick_19">
     <g id="line2d_154">
      <path d="M 501.964036 634.8528
L 501.964036 357.1704
" clip-path="url(#p6f562d3123)" style="fill: none; stroke: #b0b0b0; stroke-width: 0.8; stroke-linecap: square"/>
     </g>
     <g id="line2d_155">
      <g>
       <use href="#m1228cf1c92" x="501.964036" y="634.8528" style="stroke: #000000; stroke-width: 0.8"/>
      </g>
     </g>
     <g id="text_85">
      <text style="font-size: 10px; font-family: 'DejaVu Sans', 'Bitstream Vera Sans', 'Computer Modern Sans Serif', 'Lucida Grande', 'Verdana', 'Geneva', 'Lucid', 'Arial', 'Helvetica', 'Avant Garde', sans-serif; text-anchor: middle" x="501.964036" y="649.3528" transform="rotate(-0 501.964036 649.3528)">−5</text>
     </g>
    </g>
    <g id="xtick_20">
     <g id="line2d_156">
      <path d="M 567.548182 634.8528
L 567.548182 357.1704
" clip-path="url(#p6f562d3123)" style="fill: none; stroke: #b0b0b0; stroke-width: 0.8; stroke-linecap: square"/>
     </g>
     <g id="line2d_157">
      <g>
       <use href="#m1228cf1c92" x="567.548182" y="634.8528" style="stroke: #000000; stroke-width: 0.8"/>
      </g>
     </g>
     <g id="text_86">
      <text style="font-size: 10px; font-family: 'DejaVu Sans', 'Bitstream Vera Sans', 'Computer Modern Sans Serif', 'Lucida Grande', 'Verdana', 'Geneva', 'Lucid', 'Arial', 'Helvetica', 'Avant Garde', sans-serif; text-anchor: middle" x="567.548182" y="649.3528" transform="rotate(-0 567.548182 649.3528)">−4</text>
     </g>
    </g>
    <g id="xtick_21">
     <g id="line2d_158">
      <path d="M 633.132327 634.8528
L 633.132327 357.1704
" clip-path="url(#p6f562d3123)" style="fill: none; stroke: #b0b0b0; stroke-width: 0.8; stroke-linecap: square"/>
     </g>
     <g id="line2d_159">
      <g>
       <use href="#m1228cf1c92" x="633.132327" y="634.8528" style="stroke: #000000; stroke-width: 0.8"/>
      </g>
     </g>
     <g id="text_87">
      <text style="font-size: 10px; font-family: 'DejaVu Sans', 'Bitstream Vera Sans', 'Computer Modern Sans Serif', 'Lucida Grande', 'Verdana', 'Geneva', 'Lucid', 'Arial', 'Helvetica', 'Avant Garde', sans-serif; text-anchor: middle" x="633.132327" y="649.3528" transform="rotate(-0 633.132327 649.3528)">−3</text>
     </g>
    </g>
    <g id="xtick_22">
     <g id="line2d_160">
      <path d="M 698.716473 634.8528
L 698.716473 357.1704
" clip-path="url(#p6f562d3123)" style="fill: none; stroke: #b0b0b0; stroke-width: 0.8; stroke-linecap: square"/>
     </g>
     <g id="line2d_161">
      <g>
       <use href="#m1228cf1c92" x="698.716473" y="634.8528" style="stroke: #000000; stroke-width: 0.8"/>
      </g>
     </g>
     <g id="text_88">
      <text style="font-size: 10px; font-family: 'DejaVu Sans', 'Bitstream Vera Sans', 'Computer Modern Sans Serif', 'Lucida Grande', 'Verdana', 'Geneva', 'Lucid', 'Arial', 'Helvetica', 'Avant Garde', sans-serif; text-anchor: middle" x="698.716473" y="649.3528" transform="rotate(-0 698.716473 649.3528)">−2</text>
     </g>
    </g>
    <g id="xtick_23">
     <g id="line2d_162">
      <path d="M 764.300618 634.8528
L 764.300618 357.1704
" clip-path="url(#p6f562d3123)" style="fill: none; stroke: #b0b0b0; stroke-width: 0.8; stroke-linecap: square"/>
     </g>
     <g id="line2d_163">
      <g>
       <use href="#m1228cf1c92" x="764.300618" y="634.8528" style="stroke: #000000; stroke-width: 0.8"/>
      </g>
     </g>
     <g id="text_89">
      <text style="font-size: 10px; font-family: 'DejaVu Sans', 'Bitstream Vera Sans', 'Computer Modern Sans Serif', 'Lucida Grande', 'Verdana', 'Geneva', 'Lucid', 'Arial', 'Helvetica', 'Avant Garde', sans-serif; text-anchor: middle" x="764.300618" y="649.3528" transform="rotate(-0 764.300618 649.3528)">−1</text>
     </g>
    </g>
    <g id="xtick_24">
     <g id="line2d_164">
      <path d="M 829.884764 634.8528
L 829.884764 357.1704
" clip-path="url(#p6f562d3123)" style="fill: none; stroke: #b0b0b0; stroke-width: 0.8; stroke-linecap: square"/>
     </g>
     <g id="line2d_165">
      <g>
       <use href="#m1228cf1c92" x="829.884764" y="634.8528" style="stroke: #000000; stroke-width: 0.8"/>
      </g>
     </g>
     <g id="text_90">
      <text style="font-size: 10px; font-family: 'DejaVu Sans', 'Bitstream Vera Sans', 'Computer Modern Sans Serif', 'Lucida Grande', 'Verdana', 'Geneva', 'Lucid', 'Arial', 'Helvetica', 'Avant Garde', sans-serif; text-anchor: middle" x="829.884764" y="649.3528" transform="rotate(-0 829.884764 649.3528)">0</text>
     </g>
    </g>
    <g id="text_91">
     <text style="font-size: 10px; font-family: 'DejaVu Sans', 'Bitstream Vera Sans', 'Computer Modern Sans Serif', 'Lucida Grande', 'Verdana', 'Geneva', 'Lucid', 'Arial', 'Helvetica', 'Avant Garde', sans-serif; text-anchor: middle" x="665.9244" y="662.8528" transform="rotate(-0 665.9244 662.8528)">z</text>
    </g>
   </g>
   <g id="matplotlib.axis_8">
    <g id="ytick_28">
     <g id="line2d_166">
      <path d="M 485.568 634.8528
L 846.2808 634.8528
" clip-path="url(#p6f562d3123)" style="fill: none; stroke: #b0b0b0; stroke-width: 0.8; stroke-linecap: square"/>
     </g>
     <g id="line2d_167">
      <g>
       <use href="#m6d36496dd9" x="485.568" y="634.8528" style="stroke: #000000; stroke-width: 0.8"/>
      </g>
     </g>
     <g id="text_92">
      <text style="font-size: 10px; font-family: 'DejaVu Sans', 'Bitstream Vera Sans', 'Computer Modern Sans Serif', 'Lucida Grande', 'Verdana', 'Geneva', 'Lucid', 'Arial', 'Helvetica', 'Avant Garde', sans-serif; text-anchor: end" x="478.568" y="638.6028" transform="rotate(-0 478.568 638.6028)">−2.0</text>
     </g>
    </g>
    <g id="ytick_29">
     <g id="line2d_168">
      <path d="M 485.568 600.1425
L 846.2808 600.1425
" clip-path="url(#p6f562d3123)" style="fill: none; stroke: #b0b0b0; stroke-width: 0.8; stroke-linecap: square"/>
     </g>
     <g id="line2d_169">
      <g>
       <use href="#m6d36496dd9" x="485.568" y="600.1425" style="stroke: #000000; stroke-width: 0.8"/>
      </g>
     </g>
     <g id="text_93">
      <text style="font-size: 10px; font-family: 'DejaVu Sans', 'Bitstream Vera Sans', 'Computer Modern Sans Serif', 'Lucida Grande', 'Verdana', 'Geneva', 'Lucid', 'Arial', 'Helvetica', 'Avant Garde', sans-serif; text-anchor: end" x="478.568" y="603.8925" transform="rotate(-0 478.568 603.8925)">−1.5</text>
     </g>
    </g>
    <g id="ytick_30">
     <g id="line2d_170">
      <path d="M 485.568 565.4322
L 846.2808 565.4322
" clip-path="url(#p6f562d3123)" style="fill: none; stroke: #b0b0b0; stroke-width: 0.8; stroke-linecap: square"/>
     </g>
     <g id="line2d_171">
      <g>
       <use href="#m6d36496dd9" x="485.568" y="565.4322" style="stroke: #000000; stroke-width: 0.8"/>
      </g>
     </g>
     <g id="text_94">
      <text style="font-size: 10px; font-family: 'DejaVu Sans', 'Bitstream Vera Sans', 'Computer Modern Sans Serif', 'Lucida Grande', 'Verdana', 'Geneva', 'Lucid', 'Arial', 'Helvetica', 'Avant Garde', sans-serif; text-anchor: end" x="478.568" y="569.1822" transform="rotate(-0 478.568 569.1822)">−1.0</text>
     </g>
    </g>
    <g id="ytick_31">
     <g id="line2d_172">
      <path d="M 485.568 530.7219
L 846.2808 530.7219
" clip-path="url(#p6f562d3123)" style="fill: none; stroke: #b0b0b0; stroke-width: 0.8; stroke-linecap: square"/>
     </g>
     <g id="line2d_173">
      <g>
       <use href="#m6d36496dd9" x="485.568" y="530.7219" style="stroke: #000000; stroke-width: 0.8"/>
      </g>
     </g>
     <g id="text_95">
      <text style="font-size: 10px; font-family: 'DejaVu Sans', 'Bitstream Vera Sans', 'Computer Modern Sans Serif', 'Lucida Grande', 'Verdana', 'Geneva', 'Lucid', 'Arial', 'Helvetica', 'Avant Garde', sans-serif; text-anchor: end" x="478.568" y="534.4719" transform="rotate(-0 478.568 534.4719)">−0.5</text>
     </g>
    </g>
    <g id="ytick_32">
     <g id="line2d_174">
      <path d="M 485.568 496.0116
L 846.2808 496.0116
" clip-path="url(#p6f562d3123)" style="fill: none; stroke: #b0b0b0; stroke-width: 0.8; stroke-linecap: square"/>
     </g>
     <g id="line2d_175">
      <g>
       <use href="#m6d36496dd9" x="485.568" y="496.0116" style="stroke: #000000; stroke-width: 0.8"/>
      </g>
     </g>
     <g id="text_96">
      <text style="font-size: 10px; font-family: 'DejaVu Sans', 'Bitstream Vera Sans', 'Computer Modern Sans Serif', 'Lucida Grande', 'Verdana', 'Geneva', 'Lucid', 'Arial', 'Helvetica', 'Avant Garde', sans-serif; text-anchor: end" x="478.568" y="499.7616" transform="rotate(-0 478.568 499.7616)">0.0</text>
     </g>
    </g>
    <g id="ytick_33">
     <g id="line2d_176">
      <path d="M 485.568 461.3013
L 846.2808 461.3013
" clip-path="url(#p6f562d3123)" style="fill: none; stroke: #b0b0b0; stroke-width: 0.8; stroke-linecap: square"/>
     </g>
     <g id="line2d_177">
      <g>
       <use href="#m6d36496dd9" x="485.568" y="461.3013" style="stroke: #000000; stroke-width: 0.8"/>
      </g>
     </g>
     <g id="text_97">
      <text style="font-size: 10px; font-family: 'DejaVu Sans', 'Bitstream Vera Sans', 'Computer Modern Sans Serif', 'Lucida Grande', 'Verdana', 'Geneva', 'Lucid', 'Arial', 'Helvetica', 'Avant Garde', sans-serif; text-anchor: end" x="478.568" y="465.0513" transform="rotate(-0 478.568 465.0513)">0.5</text>
     </g>
    </g>
    <g id="ytick_34">
     <g id="line2d_178">
      <path d="M 485.568 426.591
L 846.2808 426.591
" clip-path="url(#p6f562d3123)" style="fill: none; stroke: #b0b0b0; stroke-width: 0.8; stroke-linecap: square"/>
     </g>
     <g id="line2d_179">
      <g>
       <use href="#m6d36496dd9" x="485.568" y="426.591" style="stroke: #000000; stroke-width: 0.8"/>
      </g>
     </g>
     <g id="text_98">
      <text style="font-size: 10px; font-family: 'DejaVu Sans', 'Bitstream Vera Sans', 'Computer Modern Sans Serif', 'Lucida Grande', 'Verdana', 'Geneva', 'Lucid', 'Arial', 'Helvetica', 'Avant Garde', sans-serif; text-anchor: end" x="478.568" y="430.341" transform="rotate(-0 478.568 430.341)">1.0</text>
     </g>
    </g>
    <g id="ytick_35">
     <g id="line2d_180">
      <path d="M 485.568 391.8807
L 846.2808 391.8807
" clip-path="url(#p6f562d3123)" style="fill: none; stroke: #b0b0b0; stroke-width: 0.8; stroke-linecap: square"/>
     </g>
     <g id="line2d_181">
      <g>
       <use href="#m6d36496dd9" x="485.568" y="391.8807" style="stroke: #000000; stroke-width: 0.8"/>
      </g>
     </g>
     <g id="text_99">
      <text style="font-size: 10px; font-family: 'DejaVu Sans', 'Bitstream Vera Sans', 'Computer Modern Sans Serif', 'Lucida Grande', 'Verdana', 'Geneva', 'Lucid', 'Arial', 'Helvetica', 'Avant Garde', sans-serif; text-anchor: end" x="478.568" y="395.6307" transform="rotate(-0 478.568 395.6307)">1.5</text>
     </g>
    </g>
    <g id="ytick_36">
     <g id="line2d_182">
      <path d="M 485.568 357.1704
L 846.2808 357.1704
" clip-path="url(#p6f562d3123)" style="fill: none; stroke: #b0b0b0; stroke-width: 0.8; stroke-linecap: square"/>
     </g>
     <g id="line2d_183">
      <g>
       <use href="#m6d36496dd9" x="485.568" y="357.1704" style="stroke: #000000; stroke-width: 0.8"/>
      </g>
     </g>
     <g id="text_100">
      <text style="font-size: 10px; font-family: 'DejaVu Sans', 'Bitstream Vera Sans', 'Computer Modern Sans Serif', 'Lucida Grande', 'Verdana', 'Geneva', 'Lucid', 'Arial', 'Helvetica', 'Avant Garde', sans-serif; text-anchor: end" x="478.568" y="360.9204" transform="rotate(-0 478.568 360.9204)">2.0</text>
     </g>
    </g>
    <g id="text_101">
     <!-- P$^{[K]}$$_{SL}$(z) -->
     <g transform="translate(448.4555 515.174842) rotate(-90)">
      <text>
       <tspan x="0" y="-0.85625" style="font-size: 10px; font-family: 'DejaVu Sans'">P</tspan>
       <tspan x="25.164062" y="-0.85625" style="font-size: 10px; font-family: 'DejaVu Sans'">(</tspan>
       <tspan x="29.06543" y="-0.85625" style="font-size: 10px; font-family: 'DejaVu Sans'">z</tspan>
       <tspan x="34.314453" y="-0.85625" style="font-size: 10px; font-family: 'DejaVu Sans'">)</tspan>
       <tspan x="6.125977" y="-4.684375" style="font-size: 7px; font-family: 'DejaVu Sans'">[</tspan>
       <tspan x="13.447266" y="-4.684375" style="font-size: 7px; font-family: 'DejaVu Sans'">]</tspan>
       <tspan x="8.856934" y="-4.684375" style="font-style: oblique; font-size: 7px; font-family: 'DejaVu Sans'">K</tspan>
       <tspan x="16.547363" y="0.784375" style="font-style: oblique; font-size: 7px; font-family: 'DejaVu Sans'">S</tspan>
       <tspan x="20.990723" y="0.784375" style="font-style: oblique; font-size: 7px; font-family: 'DejaVu Sans'">L</tspan>
      </text>
     </g>
    </g>
   </g>
   <g id="line2d_184">
    <path d="M 501.964036 449.7312
L 829.884764 449.7312
L 829.884764 449.7312
" clip-path="url(#p6f562d3123)" style="fill: none; stroke: #276db0; stroke-width: 2.2; stroke-linecap: round"/>
   </g>
   <g id="line2d_185">
    <path d="M 501.964036 603.9992
L 829.884764 449.7312
L 829.884764 449.7312
" clip-path="url(#p6f562d3123)" style="fill: none; stroke-dasharray: 5.55,2.4; stroke-dashoffset: 0; stroke: #f7841f; stroke-width: 1.5"/>
   </g>
   <g id="line2d_186">
    <path d="M 501.964036 346.885867
L 510.737835 356.332807
L 519.511634 365.411624
L 527.188708 373.053614
L 534.865782 380.413761
L 542.542855 387.492063
L 550.219929 394.288522
L 557.897003 400.803137
L 565.574077 407.035909
L 573.251151 412.986837
L 580.928225 418.655921
L 588.605299 424.043162
L 596.282373 429.148559
L 603.959447 433.972112
L 611.63652 438.513822
L 619.313594 442.773687
L 626.990668 446.75171
L 634.667742 450.447888
L 642.344816 453.862223
L 648.925165 456.564471
L 655.505514 459.059651
L 662.085863 461.347761
L 668.666212 463.428803
L 675.246561 465.302776
L 681.82691 466.96968
L 688.407259 468.429515
L 694.987608 469.682281
L 701.567957 470.727979
L 708.148306 471.566608
L 714.728655 472.198167
L 721.309004 472.622659
L 727.889353 472.840081
L 734.469703 472.850434
L 741.050052 472.653719
L 747.630401 472.249935
L 754.21075 471.639082
L 760.791099 470.82116
L 767.371448 469.796169
L 773.951797 468.56411
L 780.532146 467.124981
L 787.112495 465.478784
L 793.692844 463.625518
L 800.273193 461.565183
L 806.853542 459.29778
L 813.433891 456.823307
L 820.01424 454.141766
L 826.594589 451.253156
L 829.884764 449.7312
L 829.884764 449.7312
" clip-path="url(#p6f562d3123)" style="fill: none; stroke: #389f38; stroke-width: 1.5; stroke-linecap: square"/>
   </g>
   <g id="line2d_187">
    <path d="M 501.964036 632.567348
L 508.544385 622.831655
L 515.124734 613.565271
L 521.705083 604.754346
L 528.285433 596.38503
L 534.865782 588.443471
L 541.446131 580.915819
L 548.02648 573.788223
L 554.606829 567.046832
L 561.187178 560.677796
L 567.767527 554.667264
L 574.347876 549.001384
L 580.928225 543.666307
L 587.508574 538.648182
L 594.088923 533.933157
L 600.669272 529.507382
L 607.249621 525.357006
L 613.82997 521.468179
L 620.410319 517.82705
L 626.990668 514.419767
L 633.571017 511.232481
L 641.248091 507.773553
L 648.925165 504.573217
L 656.602239 501.609479
L 665.376038 498.483847
L 674.149836 495.605681
L 684.02036 492.622667
L 694.987608 489.569949
L 707.051582 486.456121
L 723.502454 482.472162
L 757.500924 474.328564
L 769.564897 471.186592
L 780.532146 468.098863
L 790.402669 465.076662
L 799.176468 462.15756
L 807.950267 458.985246
L 815.627341 455.975948
L 823.304415 452.725653
L 829.884764 449.7312
L 829.884764 449.7312
" clip-path="url(#p6f562d3123)" style="fill: none; stroke-dasharray: 5.55,2.4; stroke-dashoffset: 0; stroke: #d02c2c; stroke-width: 1.5"/>
   </g>
   <g id="line2d_188">
    <path d="M 501.964036 394.499447
L 507.447661 401.882674
L 512.931285 408.820995
L 518.414909 415.332443
L 523.898533 421.434603
L 529.382157 427.144613
L 534.865782 432.479167
L 540.349406 437.45451
L 545.83303 442.086441
L 551.316654 446.39031
L 556.800278 450.381024
L 562.283903 454.073041
L 567.767527 457.480372
L 573.251151 460.616581
L 578.734775 463.494787
L 584.218399 466.127661
L 589.702024 468.527426
L 595.185648 470.705861
L 600.669272 472.674296
L 607.249621 474.774512
L 613.82997 476.605935
L 620.410319 478.185597
L 626.990668 479.529604
L 633.571017 480.653133
L 640.151366 481.570438
L 647.82844 482.397709
L 655.505514 482.981951
L 663.182588 483.341017
L 670.859662 483.491039
L 679.633461 483.424938
L 688.407259 483.123353
L 697.181058 482.60213
L 705.954857 481.874192
L 715.82538 480.820497
L 725.695904 479.527539
L 735.566427 478.000424
L 745.436951 476.23957
L 755.307474 474.240703
L 765.177998 471.994859
L 773.951797 469.780282
L 782.725596 467.347139
L 791.499394 464.679802
L 800.273193 461.759712
L 807.950267 458.98048
L 815.627341 455.975097
L 823.304415 452.725614
L 829.884764 449.7312
L 829.884764 449.7312
" clip-path="url(#p6f562d3123)" style="fill: none; stroke: #9166bd; stroke-width: 1.5; stroke-linecap: square"/>
   </g>
   <g id="line2d_189">
    <path d="M 501.964036 553.211381
L 506.350936 548.818228
L 510.737835 544.683645
L 516.221459 539.859885
L 521.705083 535.396798
L 527.188708 531.271664
L 532.672332 527.462719
L 538.155956 523.949123
L 543.63958 520.710944
L 549.123204 517.729123
L 554.606829 514.985458
L 560.090453 512.462573
L 566.670802 509.703264
L 573.251151 507.210896
L 579.8315 504.959861
L 586.411849 502.926041
L 594.088923 500.797593
L 601.765997 498.900284
L 610.539796 496.974923
L 620.410319 495.067464
L 631.377568 493.20391
L 643.441541 491.385665
L 659.892413 489.155349
L 708.148306 482.780242
L 722.405729 480.58502
L 734.469703 478.51263
L 745.436951 476.419336
L 756.404199 474.093236
L 766.274723 471.773118
L 776.145246 469.211808
L 784.919045 466.71063
L 793.692844 463.976863
L 802.466643 460.988392
L 810.143717 458.145754
L 817.82079 455.07242
L 825.497864 451.749647
L 829.884764 449.7312
L 829.884764 449.7312
" clip-path="url(#p6f562d3123)" style="fill: none; stroke-dasharray: 5.55,2.4; stroke-dashoffset: 0; stroke: #8b574c; stroke-width: 1.5"/>
   </g>
   <g id="line2d_190">
    <path d="M 501.964036 465.038084
L 507.447661 468.072656
L 512.931285 470.814645
L 518.414909 473.285613
L 523.898533 475.505797
L 529.382157 477.494161
L 534.865782 479.268452
L 541.446131 481.138288
L 548.02648 482.750209
L 554.606829 484.128559
L 561.187178 485.295606
L 568.864252 486.417084
L 576.541326 487.307593
L 585.315124 488.075542
L 594.088923 488.609361
L 603.959447 488.966179
L 613.82997 489.098456
L 624.797218 489.016803
L 636.861192 488.684533
L 648.925165 488.127729
L 662.085863 487.288108
L 675.246561 486.220114
L 688.407259 484.927177
L 701.567957 483.402842
L 713.631931 481.789314
L 725.695904 479.950722
L 736.663152 478.064493
L 747.630401 475.951828
L 757.500924 473.836349
L 767.371448 471.496689
L 777.241971 468.909656
L 786.01577 466.381561
L 794.789569 463.617573
L 803.563367 460.595729
L 811.240441 457.721249
L 818.917515 454.613465
L 826.594589 451.253442
L 829.884764 449.7312
L 829.884764 449.7312
" clip-path="url(#p6f562d3123)" style="fill: none; stroke: #e079c2; stroke-width: 1.5; stroke-linecap: square"/>
   </g>
   <g id="line2d_191">
    <path d="M 501.964036 507.025368
L 508.544385 505.076573
L 515.124734 503.354866
L 522.801808 501.597974
L 530.478882 500.076081
L 539.252681 498.580945
L 548.02648 497.303169
L 557.897003 496.076351
L 569.960976 494.811679
L 584.218399 493.554035
L 603.959447 492.059963
L 653.312064 488.424947
L 670.859662 486.865908
L 686.21381 485.288559
L 700.471232 483.60163
L 713.631931 481.818864
L 725.695904 479.964446
L 736.663152 478.070793
L 747.630401 475.954451
L 757.500924 473.837421
L 767.371448 471.497073
L 777.241971 468.909771
L 786.01577 466.381593
L 794.789569 463.61758
L 803.563367 460.59573
L 811.240441 457.721249
L 818.917515 454.613465
L 826.594589 451.253442
L 829.884764 449.7312
L 829.884764 449.7312
" clip-path="url(#p6f562d3123)" style="fill: none; stroke-dasharray: 5.55,2.4; stroke-dashoffset: 0; stroke: #7f7f7f; stroke-width: 1.5"/>
   </g>
   <g id="line2d_192">
    <path d="M 501.964036 489.530667
L 510.737835 490.39626
L 520.608359 491.121456
L 530.478882 491.626441
L 541.446131 491.973981
L 553.510104 492.143212
L 567.767527 492.110072
L 583.121675 491.845046
L 599.572547 491.341008
L 617.120145 490.580809
L 634.667742 489.599062
L 651.118615 488.468455
L 667.569487 487.113056
L 682.923635 485.61743
L 697.181058 483.999484
L 710.341756 482.281305
L 722.405729 480.490439
L 734.469703 478.465637
L 745.436951 476.396433
L 755.307474 474.326259
L 765.177998 472.037583
L 775.048522 469.507353
L 783.82232 467.034927
L 792.596119 464.331862
L 801.369918 461.376644
L 809.046992 458.565545
L 816.724066 455.526286
L 824.401139 452.240351
L 829.884764 449.7312
L 829.884764 449.7312
" clip-path="url(#p6f562d3123)" style="fill: none; stroke: #bebc2e; stroke-width: 1.5; stroke-linecap: square"/>
   </g>
   <g id="line2d_193">
    <path d="M 501.964036 496.010186
L 517.318184 495.114527
L 537.059231 494.1987
L 616.02342 490.773095
L 635.764467 489.588044
L 653.312064 488.325968
L 669.762937 486.923994
L 685.117085 485.387805
L 699.374508 483.730536
L 712.535206 481.972467
L 724.599179 480.140768
L 735.566427 478.269032
L 746.533676 476.176566
L 756.404199 474.083163
L 766.274723 471.768822
L 776.145246 469.210224
L 784.919045 466.71008
L 793.692844 463.976712
L 802.466643 460.988363
L 810.143717 458.14575
L 817.82079 455.07242
L 825.497864 451.749647
L 829.884764 449.7312
L 829.884764 449.7312
" clip-path="url(#p6f562d3123)" style="fill: none; stroke-dasharray: 5.55,2.4; stroke-dashoffset: 0; stroke: #30b8cc; stroke-width: 1.5"/>
   </g>
   <g id="line2d_194">
    <path d="M 485.568 496.0116
L 846.2808 496.0116
" clip-path="url(#p6f562d3123)" style="fill: none; stroke-dasharray: 2.96,1.28; stroke-dashoffset: 0; stroke: #000000; stroke-width: 0.8"/>
   </g>
   <g id="patch_21">
    <path d="M 485.568 634.8528
L 485.568 357.1704
" style="fill: none; stroke: #000000; stroke-linejoin: miter; stroke-linecap: square"/>
   </g>
   <g id="patch_22">
    <path d="M 846.2808 634.8528
L 846.2808 357.1704
" style="fill: none; stroke: #000000; stroke-linejoin: miter; stroke-linecap: square"/>
   </g>
   <g id="patch_23">
    <path d="M 485.568 634.8528
L 846.2808 634.8528
" style="fill: none; stroke: #000000; stroke-linejoin: miter; stroke-linecap: square"/>
   </g>
   <g id="patch_24">
    <path d="M 485.568 357.1704
L 846.2808 357.1704
" style="fill: none; stroke: #000000; stroke-linejoin: miter; stroke-linecap: square"/>
   </g>
   <g id="text_102">
    <!-- Derivative Polynomial: $\delta = 1.5$ -->
    <g transform="translate(576.1047 351.5304) scale(0.9907 1)">
     <text>
      <tspan x="0" y="-0.875" style="font-size: 12px; font-family: 'DejaVu Sans'">D</tspan>
      <tspan x="9.240234" y="-0.875" style="font-size: 12px; font-family: 'DejaVu Sans'">e</tspan>
      <tspan x="16.623047" y="-0.875" style="font-size: 12px; font-family: 'DejaVu Sans'">r</tspan>
      <tspan x="21.556641" y="-0.875" style="font-size: 12px; font-family: 'DejaVu Sans'">i</tspan>
      <tspan x="24.890625" y="-0.875" style="font-size: 12px; font-family: 'DejaVu Sans'">v</tspan>
      <tspan x="31.992188" y="-0.875" style="font-size: 12px; font-family: 'DejaVu Sans'">a</tspan>
      <tspan x="39.345703" y="-0.875" style="font-size: 12px; font-family: 'DejaVu Sans'">t</tspan>
      <tspan x="44.050781" y="-0.875" style="font-size: 12px; font-family: 'DejaVu Sans'">i</tspan>
      <tspan x="47.384766" y="-0.875" style="font-size: 12px; font-family: 'DejaVu Sans'">v</tspan>
      <tspan x="54.486328" y="-0.875" style="font-size: 12px; font-family: 'DejaVu Sans'">e</tspan>
      <tspan x="61.869141" y="-0.875" style="font-size: 12px; font-family: 'DejaVu Sans'"> </tspan>
      <tspan x="65.683594" y="-0.875" style="font-size: 12px; font-family: 'DejaVu Sans'">P</tspan>
      <tspan x="72.919922" y="-0.875" style="font-size: 12px; font-family: 'DejaVu Sans'">o</tspan>
      <tspan x="80.261719" y="-0.875" style="font-size: 12px; font-family: 'DejaVu Sans'">l</tspan>
      <tspan x="83.595703" y="-0.875" style="font-size: 12px; font-family: 'DejaVu Sans'">y</tspan>
      <tspan x="90.697266" y="-0.875" style="font-size: 12px; font-family: 'DejaVu Sans'">n</tspan>
      <tspan x="98.302734" y="-0.875" style="font-size: 12px; font-family: 'DejaVu Sans'">o</tspan>
      <tspan x="105.644531" y="-0.875" style="font-size: 12px; font-family: 'DejaVu Sans'">m</tspan>
      <tspan x="117.333984" y="-0.875" style="font-size: 12px; font-family: 'DejaVu Sans'">i</tspan>
      <tspan x="120.667969" y="-0.875" style="font-size: 12px; font-family: 'DejaVu Sans'">a</tspan>
      <tspan x="128.021484" y="-0.875" style="font-size: 12px; font-family: 'DejaVu Sans'">l</tspan>
      <tspan x="131.355469" y="-0.875" style="font-size: 12px; font-family: 'DejaVu Sans'">:</tspan>
      <tspan x="135.398438" y="-0.875" style="font-size: 12px; font-family: 'DejaVu Sans'"> </tspan>
      <tspan x="148.892578" y="-0.875" style="font-size: 12px; font-family: 'DejaVu Sans'">=</tspan>
      <tspan x="161.285156" y="-0.875" style="font-size: 12px; font-family: 'DejaVu Sans'">1</tspan>
      <tspan x="168.919922" y="-0.875" style="font-size: 12px; font-family: 'DejaVu Sans'">.</tspan>
      <tspan x="172.734375" y="-0.875" style="font-size: 12px; font-family: 'DejaVu Sans'">5</tspan>
      <tspan x="139.212891" y="-0.875" style="font-style: oblique; font-size: 12px; font-family: 'DejaVu Sans'">δ</tspan>
     </text>
    </g>
   </g>
   <g id="legend_4">
    <g id="patch_25">
     <path d="M 787.7683 630.8528
L 840.6808 630.8528
Q 842.2808 630.8528 842.2808 629.2528
L 842.2808 515.0528
Q 842.2808 513.4528 840.6808 513.4528
L 787.7683 513.4528
Q 786.1683 513.4528 786.1683 515.0528
L 786.1683 629.2528
Q 786.1683 630.8528 787.7683 630.8528
z
" style="fill: #ffffff; opacity: 0.8; stroke: #cccccc; stroke-linejoin: miter"/>
    </g>
    <g id="line2d_195">
     <path d="M 789.3683 519.8528
L 797.3683 519.8528
L 805.3683 519.8528
" style="fill: none; stroke: #276db0; stroke-width: 2; stroke-linecap: square"/>
    </g>
    <g id="text_103">
     <text style="font-size: 8px; font-family: 'DejaVu Sans', 'Bitstream Vera Sans', 'Computer Modern Sans Serif', 'Lucida Grande', 'Verdana', 'Geneva', 'Lucid', 'Arial', 'Helvetica', 'Avant Garde', sans-serif; text-anchor: start" x="811.7683" y="522.6528" transform="rotate(-0 811.7683 522.6528)">K = 1</text>
    </g>
    <g id="line2d_196">
     <path d="M 789.3683 531.3528
L 797.3683 531.3528
L 805.3683 531.3528
" style="fill: none; stroke-dasharray: 6.26,1.44; stroke-dashoffset: 0; stroke: #f7841f; stroke-width: 2"/>
    </g>
    <g id="text_104">
     <text style="font-size: 8px; font-family: 'DejaVu Sans', 'Bitstream Vera Sans', 'Computer Modern Sans Serif', 'Lucida Grande', 'Verdana', 'Geneva', 'Lucid', 'Arial', 'Helvetica', 'Avant Garde', sans-serif; text-anchor: start" x="811.7683" y="534.1528" transform="rotate(-0 811.7683 534.1528)">K = 2</text>
    </g>
    <g id="line2d_197">
     <path d="M 789.3683 542.8528
L 797.3683 542.8528
L 805.3683 542.8528
" style="fill: none; stroke: #389f38; stroke-width: 2; stroke-linecap: square"/>
    </g>
    <g id="text_105">
     <text style="font-size: 8px; font-family: 'DejaVu Sans', 'Bitstream Vera Sans', 'Computer Modern Sans Serif', 'Lucida Grande', 'Verdana', 'Geneva', 'Lucid', 'Arial', 'Helvetica', 'Avant Garde', sans-serif; text-anchor: start" x="811.7683" y="545.6528" transform="rotate(-0 811.7683 545.6528)">K = 3</text>
    </g>
    <g id="line2d_198">
     <path d="M 789.3683 554.3528
L 797.3683 554.3528
L 805.3683 554.3528
" style="fill: none; stroke-dasharray: 6.26,1.44; stroke-dashoffset: 0; stroke: #d02c2c; stroke-width: 2"/>
    </g>
    <g id="text_106">
     <text style="font-size: 8px; font-family: 'DejaVu Sans', 'Bitstream Vera Sans', 'Computer Modern Sans Serif', 'Lucida Grande', 'Verdana', 'Geneva', 'Lucid', 'Arial', 'Helvetica', 'Avant Garde', sans-serif; text-anchor: start" x="811.7683" y="557.1528" transform="rotate(-0 811.7683 557.1528)">K = 4</text>
    </g>
    <g id="line2d_199">
     <path d="M 789.3683 565.8528
L 797.3683 565.8528
L 805.3683 565.8528
" style="fill: none; stroke: #9166bd; stroke-width: 2; stroke-linecap: square"/>
    </g>
    <g id="text_107">
     <text style="font-size: 8px; font-family: 'DejaVu Sans', 'Bitstream Vera Sans', 'Computer Modern Sans Serif', 'Lucida Grande', 'Verdana', 'Geneva', 'Lucid', 'Arial', 'Helvetica', 'Avant Garde', sans-serif; text-anchor: start" x="811.7683" y="568.6528" transform="rotate(-0 811.7683 568.6528)">K = 5</text>
    </g>
    <g id="line2d_200">
     <path d="M 789.3683 577.3528
L 797.3683 577.3528
L 805.3683 577.3528
" style="fill: none; stroke-dasharray: 6.26,1.44; stroke-dashoffset: 0; stroke: #8b574c; stroke-width: 2"/>
    </g>
    <g id="text_108">
     <text style="font-size: 8px; font-family: 'DejaVu Sans', 'Bitstream Vera Sans', 'Computer Modern Sans Serif', 'Lucida Grande', 'Verdana', 'Geneva', 'Lucid', 'Arial', 'Helvetica', 'Avant Garde', sans-serif; text-anchor: start" x="811.7683" y="580.1528" transform="rotate(-0 811.7683 580.1528)">K = 6</text>
    </g>
    <g id="line2d_201">
     <path d="M 789.3683 588.8528
L 797.3683 588.8528
L 805.3683 588.8528
" style="fill: none; stroke: #e079c2; stroke-width: 2; stroke-linecap: square"/>
    </g>
    <g id="text_109">
     <text style="font-size: 8px; font-family: 'DejaVu Sans', 'Bitstream Vera Sans', 'Computer Modern Sans Serif', 'Lucida Grande', 'Verdana', 'Geneva', 'Lucid', 'Arial', 'Helvetica', 'Avant Garde', sans-serif; text-anchor: start" x="811.7683" y="591.6528" transform="rotate(-0 811.7683 591.6528)">K = 7</text>
    </g>
    <g id="line2d_202">
     <path d="M 789.3683 600.3528
L 797.3683 600.3528
L 805.3683 600.3528
" style="fill: none; stroke-dasharray: 6.26,1.44; stroke-dashoffset: 0; stroke: #7f7f7f; stroke-width: 2"/>
    </g>
    <g id="text_110">
     <text style="font-size: 8px; font-family: 'DejaVu Sans', 'Bitstream Vera Sans', 'Computer Modern Sans Serif', 'Lucida Grande', 'Verdana', 'Geneva', 'Lucid', 'Arial', 'Helvetica', 'Avant Garde', sans-serif; text-anchor: start" x="811.7683" y="603.1528" transform="rotate(-0 811.7683 603.1528)">K = 8</text>
    </g>
    <g id="line2d_203">
     <path d="M 789.3683 611.8528
L 797.3683 611.8528
L 805.3683 611.8528
" style="fill: none; stroke: #bebc2e; stroke-width: 2; stroke-linecap: square"/>
    </g>
    <g id="text_111">
     <text style="font-size: 8px; font-family: 'DejaVu Sans', 'Bitstream Vera Sans', 'Computer Modern Sans Serif', 'Lucida Grande', 'Verdana', 'Geneva', 'Lucid', 'Arial', 'Helvetica', 'Avant Garde', sans-serif; text-anchor: start" x="811.7683" y="614.6528" transform="rotate(-0 811.7683 614.6528)">K = 9</text>
    </g>
    <g id="line2d_204">
     <path d="M 789.3683 623.3528
L 797.3683 623.3528
L 805.3683 623.3528
" style="fill: none; stroke-dasharray: 6.26,1.44; stroke-dashoffset: 0; stroke: #30b8cc; stroke-width: 2"/>
    </g>
    <g id="text_112">
     <text style="font-size: 8px; font-family: 'DejaVu Sans', 'Bitstream Vera Sans', 'Computer Modern Sans Serif', 'Lucida Grande', 'Verdana', 'Geneva', 'Lucid', 'Arial', 'Helvetica', 'Avant Garde', sans-serif; text-anchor: start" x="811.7683" y="626.1528" transform="rotate(-0 811.7683 626.1528)">K = 10</text>
    </g>
   </g>
  </g>
 </g>
 <defs>
  <clipPath id="p44d1da7086">
   <rect x="65.448" y="21.96" width="360.5472" height="278.0424"/>
  </clipPath>
  <clipPath id="pb7b802564a">
   <rect x="485.568" y="21.96" width="360.7128" height="278.0424"/>
  </clipPath>
  <clipPath id="p2730bad66c">
   <rect x="65.448" y="357.1704" width="360.5472" height="277.6824"/>
  </clipPath>
  <clipPath id="p6f562d3123">
   <rect x="485.568" y="357.1704" width="360.7128" height="277.6824"/>
  </clipPath>
 </defs>
</svg>

</div></body></html>
